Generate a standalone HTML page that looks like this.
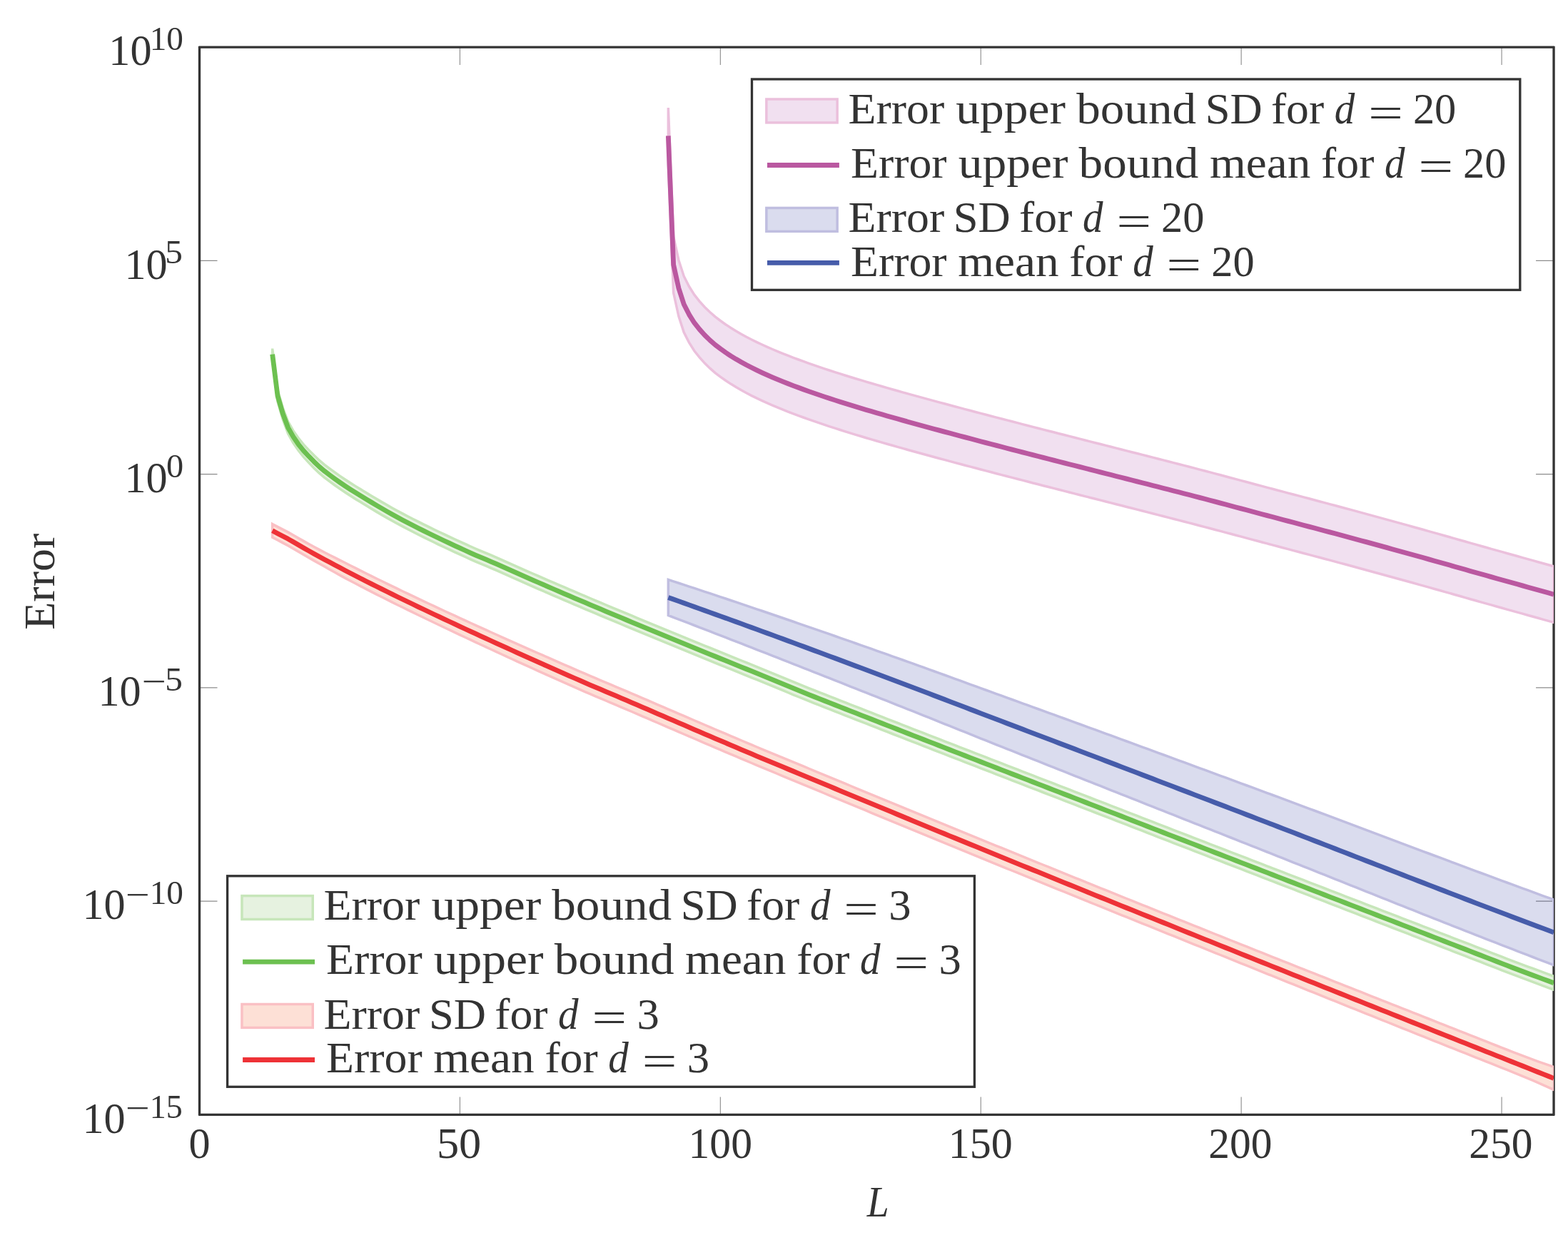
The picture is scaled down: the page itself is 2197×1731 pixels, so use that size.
<!DOCTYPE html>
<html lang="en"><head><meta charset="utf-8"><title>Error versus L</title>
<style>html,body{margin:0;padding:0;background:#fff}svg{display:block}text{font-family:"Liberation Serif",serif;fill:#333333}</style></head>
<body><svg width="2197" height="1731" viewBox="0 0 2197 1731">
<rect width="2197" height="1731" fill="#ffffff"/>
<defs><clipPath id="pc"><rect x="279.50" y="66.05" width="1897.55" height="1496.40"/></clipPath></defs>
<path d="M279.50 1562.45 V1537.45 M279.50 66.05 V91.05 M644.41 1562.45 V1537.45 M644.41 66.05 V91.05 M1009.33 1562.45 V1537.45 M1009.33 66.05 V91.05 M1374.24 1562.45 V1537.45 M1374.24 66.05 V91.05 M1739.15 1562.45 V1537.45 M1739.15 66.05 V91.05 M2104.07 1562.45 V1537.45 M2104.07 66.05 V91.05 M279.50 66.05 H304.50 M2177.05 66.05 H2152.05 M279.50 365.33 H304.50 M2177.05 365.33 H2152.05 M279.50 664.61 H304.50 M2177.05 664.61 H2152.05 M279.50 963.89 H304.50 M2177.05 963.89 H2152.05 M279.50 1263.17 H304.50 M2177.05 1263.17 H2152.05 M279.50 1562.45 H304.50 M2177.05 1562.45 H2152.05" stroke="#8c8c8c" stroke-width="1.1" fill="none"/>
<path d="M279.50 64.99 V1563.51 M2177.05 64.99 V1563.51 M278.44 66.05 H2178.11 M278.44 1562.45 H2178.11" stroke="#333333" stroke-width="3.32" fill="none"/>
<g clip-path="url(#pc)" stroke-linejoin="miter" stroke-miterlimit="10">
<rect x="2175.00" y="792.65" width="2.05" height="81.00" fill="#ffffff"/>
<path d="M936.34 151.10 L943.64 331.70 L950.94 364.70 L958.24 387.20 L965.54 401.53 L972.84 413.16 L980.13 422.35 L987.43 430.45 L994.73 437.55 L1002.03 443.92 L1009.33 449.49 L1016.63 454.69 L1023.92 459.51 L1031.22 464.01 L1038.52 468.23 L1045.82 472.22 L1053.12 476.00 L1060.41 479.60 L1067.71 483.04 L1075.01 486.34 L1082.31 489.52 L1089.61 492.59 L1096.91 495.57 L1104.20 498.45 L1111.50 501.26 L1118.80 503.99 L1126.10 506.67 L1133.40 509.28 L1140.70 511.84 L1147.99 514.35 L1155.29 516.81 L1162.59 519.22 L1169.89 521.59 L1177.19 523.93 L1184.49 526.22 L1191.78 528.49 L1199.08 530.72 L1206.38 532.93 L1213.68 535.11 L1220.98 537.27 L1228.28 539.41 L1235.57 541.52 L1242.87 543.62 L1250.17 545.70 L1257.47 547.76 L1264.77 549.81 L1272.06 551.85 L1279.36 553.87 L1286.66 555.89 L1293.96 557.89 L1301.26 559.88 L1308.56 561.87 L1315.85 563.84 L1323.15 565.81 L1330.45 567.77 L1337.75 569.72 L1345.05 571.66 L1352.35 573.60 L1359.64 575.53 L1366.94 577.45 L1374.24 579.37 L1381.54 581.29 L1388.84 583.20 L1396.14 585.10 L1403.43 587.00 L1410.73 588.90 L1418.03 590.79 L1425.33 592.68 L1432.63 594.57 L1439.92 596.45 L1447.22 598.33 L1454.52 600.20 L1461.82 602.08 L1469.12 603.95 L1476.42 605.82 L1483.71 607.68 L1491.01 609.55 L1498.31 611.41 L1505.61 613.27 L1512.91 615.12 L1520.21 616.98 L1527.50 618.84 L1534.80 620.69 L1542.10 622.55 L1549.40 624.40 L1556.70 626.26 L1564.00 628.12 L1571.29 629.97 L1578.59 631.83 L1585.89 633.69 L1593.19 635.55 L1600.49 637.41 L1607.79 639.28 L1615.08 641.14 L1622.38 643.01 L1629.68 644.88 L1636.98 646.76 L1644.28 648.63 L1651.57 650.51 L1658.87 652.40 L1666.17 654.28 L1673.47 656.18 L1680.77 658.09 L1688.07 660.01 L1695.36 661.93 L1702.66 663.86 L1709.96 665.80 L1717.26 667.74 L1724.56 669.69 L1731.86 671.63 L1739.15 673.58 L1746.45 675.53 L1753.75 677.49 L1761.05 679.44 L1768.35 681.38 L1775.65 683.33 L1782.94 685.27 L1790.24 687.21 L1797.54 689.14 L1804.84 691.07 L1812.14 693.00 L1819.43 694.93 L1826.73 696.87 L1834.03 698.80 L1841.33 700.74 L1848.63 702.69 L1855.93 704.63 L1863.22 706.58 L1870.52 708.53 L1877.82 710.49 L1885.12 712.45 L1892.42 714.42 L1899.72 716.39 L1907.01 718.37 L1914.31 720.35 L1921.61 722.34 L1928.91 724.34 L1936.21 726.34 L1943.51 728.34 L1950.80 730.36 L1958.10 732.37 L1965.40 734.39 L1972.70 736.42 L1980.00 738.45 L1987.30 740.49 L1994.59 742.53 L2001.89 744.57 L2009.19 746.62 L2016.49 748.68 L2023.79 750.74 L2031.08 752.80 L2038.38 754.87 L2045.68 756.95 L2052.98 759.03 L2060.28 761.10 L2067.58 763.16 L2074.87 765.23 L2082.17 767.28 L2089.47 769.33 L2096.77 771.38 L2104.07 773.42 L2111.37 775.47 L2118.66 777.51 L2125.96 779.54 L2133.26 781.58 L2140.56 783.62 L2147.86 785.66 L2155.16 787.71 L2162.45 789.75 L2169.75 791.80 L2177.05 793.85 L2177.05 872.45 L2169.75 870.40 L2162.45 868.35 L2155.16 866.31 L2147.86 864.26 L2140.56 862.22 L2133.26 860.18 L2125.96 858.14 L2118.66 856.11 L2111.37 854.07 L2104.07 852.02 L2096.77 849.98 L2089.47 847.93 L2082.17 845.88 L2074.87 843.83 L2067.58 841.76 L2060.28 839.70 L2052.98 837.63 L2045.68 835.55 L2038.38 833.47 L2031.08 831.40 L2023.79 829.34 L2016.49 827.28 L2009.19 825.22 L2001.89 823.17 L1994.59 821.13 L1987.30 819.09 L1980.00 817.05 L1972.70 815.02 L1965.40 812.99 L1958.10 810.97 L1950.80 808.96 L1943.51 806.94 L1936.21 804.94 L1928.91 802.94 L1921.61 800.94 L1914.31 798.95 L1907.01 796.97 L1899.72 794.99 L1892.42 793.02 L1885.12 791.05 L1877.82 789.09 L1870.52 787.13 L1863.22 785.18 L1855.93 783.23 L1848.63 781.29 L1841.33 779.34 L1834.03 777.40 L1826.73 775.47 L1819.43 773.53 L1812.14 771.60 L1804.84 769.67 L1797.54 767.74 L1790.24 765.81 L1782.94 763.87 L1775.65 761.93 L1768.35 759.98 L1761.05 758.04 L1753.75 756.09 L1746.45 754.13 L1739.15 752.18 L1731.86 750.23 L1724.56 748.29 L1717.26 746.34 L1709.96 744.40 L1702.66 742.46 L1695.36 740.53 L1688.07 738.61 L1680.77 736.69 L1673.47 734.78 L1666.17 732.88 L1658.87 731.00 L1651.57 729.11 L1644.28 727.23 L1636.98 725.36 L1629.68 723.48 L1622.38 721.61 L1615.08 719.74 L1607.79 717.88 L1600.49 716.01 L1593.19 714.15 L1585.89 712.29 L1578.59 710.43 L1571.29 708.57 L1564.00 706.72 L1556.70 704.86 L1549.40 703.00 L1542.10 701.15 L1534.80 699.29 L1527.50 697.44 L1520.21 695.58 L1512.91 693.72 L1505.61 691.87 L1498.31 690.01 L1491.01 688.15 L1483.71 686.28 L1476.42 684.42 L1469.12 682.55 L1461.82 680.68 L1454.52 678.80 L1447.22 676.93 L1439.92 675.05 L1432.63 673.17 L1425.33 671.28 L1418.03 669.39 L1410.73 667.50 L1403.43 665.60 L1396.14 663.70 L1388.84 661.80 L1381.54 659.89 L1374.24 657.97 L1366.94 656.05 L1359.64 654.13 L1352.35 652.20 L1345.05 650.26 L1337.75 648.32 L1330.45 646.37 L1323.15 644.41 L1315.85 642.44 L1308.56 640.47 L1301.26 638.48 L1293.96 636.49 L1286.66 634.49 L1279.36 632.47 L1272.06 630.45 L1264.77 628.41 L1257.47 626.36 L1250.17 624.30 L1242.87 622.22 L1235.57 620.12 L1228.28 618.01 L1220.98 615.87 L1213.68 613.71 L1206.38 611.53 L1199.08 609.32 L1191.78 607.09 L1184.49 604.82 L1177.19 602.53 L1169.89 600.19 L1162.59 597.82 L1155.29 595.41 L1147.99 592.95 L1140.70 590.44 L1133.40 587.88 L1126.10 585.27 L1118.80 582.59 L1111.50 579.86 L1104.20 577.05 L1096.91 574.17 L1089.61 571.19 L1082.31 568.12 L1075.01 564.94 L1067.71 561.64 L1060.41 558.20 L1053.12 554.60 L1045.82 550.82 L1038.52 546.83 L1031.22 542.61 L1023.92 538.11 L1016.63 533.29 L1009.33 528.09 L1002.03 522.52 L994.73 516.15 L987.43 509.05 L980.13 500.95 L972.84 491.76 L965.54 480.13 L958.24 465.80 L950.94 443.30 L943.64 410.30 L936.34 229.70 Z" fill="rgb(185,100,180)" fill-opacity="0.2" stroke="none"/>
<path d="M936.34 151.10 L943.64 331.70 L950.94 364.70 L958.24 387.20 L965.54 401.53 L972.84 413.16 L980.13 422.35 L987.43 430.45 L994.73 437.55 L1002.03 443.92 L1009.33 449.49 L1016.63 454.69 L1023.92 459.51 L1031.22 464.01 L1038.52 468.23 L1045.82 472.22 L1053.12 476.00 L1060.41 479.60 L1067.71 483.04 L1075.01 486.34 L1082.31 489.52 L1089.61 492.59 L1096.91 495.57 L1104.20 498.45 L1111.50 501.26 L1118.80 503.99 L1126.10 506.67 L1133.40 509.28 L1140.70 511.84 L1147.99 514.35 L1155.29 516.81 L1162.59 519.22 L1169.89 521.59 L1177.19 523.93 L1184.49 526.22 L1191.78 528.49 L1199.08 530.72 L1206.38 532.93 L1213.68 535.11 L1220.98 537.27 L1228.28 539.41 L1235.57 541.52 L1242.87 543.62 L1250.17 545.70 L1257.47 547.76 L1264.77 549.81 L1272.06 551.85 L1279.36 553.87 L1286.66 555.89 L1293.96 557.89 L1301.26 559.88 L1308.56 561.87 L1315.85 563.84 L1323.15 565.81 L1330.45 567.77 L1337.75 569.72 L1345.05 571.66 L1352.35 573.60 L1359.64 575.53 L1366.94 577.45 L1374.24 579.37 L1381.54 581.29 L1388.84 583.20 L1396.14 585.10 L1403.43 587.00 L1410.73 588.90 L1418.03 590.79 L1425.33 592.68 L1432.63 594.57 L1439.92 596.45 L1447.22 598.33 L1454.52 600.20 L1461.82 602.08 L1469.12 603.95 L1476.42 605.82 L1483.71 607.68 L1491.01 609.55 L1498.31 611.41 L1505.61 613.27 L1512.91 615.12 L1520.21 616.98 L1527.50 618.84 L1534.80 620.69 L1542.10 622.55 L1549.40 624.40 L1556.70 626.26 L1564.00 628.12 L1571.29 629.97 L1578.59 631.83 L1585.89 633.69 L1593.19 635.55 L1600.49 637.41 L1607.79 639.28 L1615.08 641.14 L1622.38 643.01 L1629.68 644.88 L1636.98 646.76 L1644.28 648.63 L1651.57 650.51 L1658.87 652.40 L1666.17 654.28 L1673.47 656.18 L1680.77 658.09 L1688.07 660.01 L1695.36 661.93 L1702.66 663.86 L1709.96 665.80 L1717.26 667.74 L1724.56 669.69 L1731.86 671.63 L1739.15 673.58 L1746.45 675.53 L1753.75 677.49 L1761.05 679.44 L1768.35 681.38 L1775.65 683.33 L1782.94 685.27 L1790.24 687.21 L1797.54 689.14 L1804.84 691.07 L1812.14 693.00 L1819.43 694.93 L1826.73 696.87 L1834.03 698.80 L1841.33 700.74 L1848.63 702.69 L1855.93 704.63 L1863.22 706.58 L1870.52 708.53 L1877.82 710.49 L1885.12 712.45 L1892.42 714.42 L1899.72 716.39 L1907.01 718.37 L1914.31 720.35 L1921.61 722.34 L1928.91 724.34 L1936.21 726.34 L1943.51 728.34 L1950.80 730.36 L1958.10 732.37 L1965.40 734.39 L1972.70 736.42 L1980.00 738.45 L1987.30 740.49 L1994.59 742.53 L2001.89 744.57 L2009.19 746.62 L2016.49 748.68 L2023.79 750.74 L2031.08 752.80 L2038.38 754.87 L2045.68 756.95 L2052.98 759.03 L2060.28 761.10 L2067.58 763.16 L2074.87 765.23 L2082.17 767.28 L2089.47 769.33 L2096.77 771.38 L2104.07 773.42 L2111.37 775.47 L2118.66 777.51 L2125.96 779.54 L2133.26 781.58 L2140.56 783.62 L2147.86 785.66 L2155.16 787.71 L2162.45 789.75 L2169.75 791.80 L2177.05 793.85 L2177.05 872.45 L2169.75 870.40 L2162.45 868.35 L2155.16 866.31 L2147.86 864.26 L2140.56 862.22 L2133.26 860.18 L2125.96 858.14 L2118.66 856.11 L2111.37 854.07 L2104.07 852.02 L2096.77 849.98 L2089.47 847.93 L2082.17 845.88 L2074.87 843.83 L2067.58 841.76 L2060.28 839.70 L2052.98 837.63 L2045.68 835.55 L2038.38 833.47 L2031.08 831.40 L2023.79 829.34 L2016.49 827.28 L2009.19 825.22 L2001.89 823.17 L1994.59 821.13 L1987.30 819.09 L1980.00 817.05 L1972.70 815.02 L1965.40 812.99 L1958.10 810.97 L1950.80 808.96 L1943.51 806.94 L1936.21 804.94 L1928.91 802.94 L1921.61 800.94 L1914.31 798.95 L1907.01 796.97 L1899.72 794.99 L1892.42 793.02 L1885.12 791.05 L1877.82 789.09 L1870.52 787.13 L1863.22 785.18 L1855.93 783.23 L1848.63 781.29 L1841.33 779.34 L1834.03 777.40 L1826.73 775.47 L1819.43 773.53 L1812.14 771.60 L1804.84 769.67 L1797.54 767.74 L1790.24 765.81 L1782.94 763.87 L1775.65 761.93 L1768.35 759.98 L1761.05 758.04 L1753.75 756.09 L1746.45 754.13 L1739.15 752.18 L1731.86 750.23 L1724.56 748.29 L1717.26 746.34 L1709.96 744.40 L1702.66 742.46 L1695.36 740.53 L1688.07 738.61 L1680.77 736.69 L1673.47 734.78 L1666.17 732.88 L1658.87 731.00 L1651.57 729.11 L1644.28 727.23 L1636.98 725.36 L1629.68 723.48 L1622.38 721.61 L1615.08 719.74 L1607.79 717.88 L1600.49 716.01 L1593.19 714.15 L1585.89 712.29 L1578.59 710.43 L1571.29 708.57 L1564.00 706.72 L1556.70 704.86 L1549.40 703.00 L1542.10 701.15 L1534.80 699.29 L1527.50 697.44 L1520.21 695.58 L1512.91 693.72 L1505.61 691.87 L1498.31 690.01 L1491.01 688.15 L1483.71 686.28 L1476.42 684.42 L1469.12 682.55 L1461.82 680.68 L1454.52 678.80 L1447.22 676.93 L1439.92 675.05 L1432.63 673.17 L1425.33 671.28 L1418.03 669.39 L1410.73 667.50 L1403.43 665.60 L1396.14 663.70 L1388.84 661.80 L1381.54 659.89 L1374.24 657.97 L1366.94 656.05 L1359.64 654.13 L1352.35 652.20 L1345.05 650.26 L1337.75 648.32 L1330.45 646.37 L1323.15 644.41 L1315.85 642.44 L1308.56 640.47 L1301.26 638.48 L1293.96 636.49 L1286.66 634.49 L1279.36 632.47 L1272.06 630.45 L1264.77 628.41 L1257.47 626.36 L1250.17 624.30 L1242.87 622.22 L1235.57 620.12 L1228.28 618.01 L1220.98 615.87 L1213.68 613.71 L1206.38 611.53 L1199.08 609.32 L1191.78 607.09 L1184.49 604.82 L1177.19 602.53 L1169.89 600.19 L1162.59 597.82 L1155.29 595.41 L1147.99 592.95 L1140.70 590.44 L1133.40 587.88 L1126.10 585.27 L1118.80 582.59 L1111.50 579.86 L1104.20 577.05 L1096.91 574.17 L1089.61 571.19 L1082.31 568.12 L1075.01 564.94 L1067.71 561.64 L1060.41 558.20 L1053.12 554.60 L1045.82 550.82 L1038.52 546.83 L1031.22 542.61 L1023.92 538.11 L1016.63 533.29 L1009.33 528.09 L1002.03 522.52 L994.73 516.15 L987.43 509.05 L980.13 500.95 L972.84 491.76 L965.54 480.13 L958.24 465.80 L950.94 443.30 L943.64 410.30 L936.34 229.70 Z" fill="none" stroke="#ebc0dc" stroke-width="3.50"/>
<rect x="2175.00" y="1259.93" width="2.05" height="94.00" fill="#ffffff"/>
<path d="M936.34 812.50 L943.64 814.88 L950.94 817.26 L958.24 819.65 L965.54 822.05 L972.84 824.46 L980.13 826.87 L987.43 829.29 L994.73 831.71 L1002.03 834.14 L1009.33 836.58 L1016.63 839.02 L1023.92 841.47 L1031.22 843.92 L1038.52 846.38 L1045.82 848.85 L1053.12 851.32 L1060.41 853.79 L1067.71 856.27 L1075.01 858.76 L1082.31 861.25 L1089.61 863.75 L1096.91 866.25 L1104.20 868.75 L1111.50 871.26 L1118.80 873.78 L1126.10 876.30 L1133.40 878.82 L1140.70 881.35 L1147.99 883.89 L1155.29 886.42 L1162.59 888.97 L1169.89 891.51 L1177.19 894.06 L1184.49 896.62 L1191.78 899.18 L1199.08 901.74 L1206.38 904.31 L1213.68 906.88 L1220.98 909.45 L1228.28 912.03 L1235.57 914.61 L1242.87 917.20 L1250.17 919.79 L1257.47 922.38 L1264.77 924.98 L1272.06 927.59 L1279.36 930.21 L1286.66 932.83 L1293.96 935.46 L1301.26 938.09 L1308.56 940.73 L1315.85 943.38 L1323.15 946.02 L1330.45 948.67 L1337.75 951.33 L1345.05 953.98 L1352.35 956.64 L1359.64 959.30 L1366.94 961.95 L1374.24 964.61 L1381.54 967.26 L1388.84 969.91 L1396.14 972.56 L1403.43 975.20 L1410.73 977.85 L1418.03 980.49 L1425.33 983.14 L1432.63 985.79 L1439.92 988.44 L1447.22 991.09 L1454.52 993.74 L1461.82 996.39 L1469.12 999.04 L1476.42 1001.70 L1483.71 1004.35 L1491.01 1007.01 L1498.31 1009.67 L1505.61 1012.33 L1512.91 1014.99 L1520.21 1017.65 L1527.50 1020.31 L1534.80 1022.98 L1542.10 1025.64 L1549.40 1028.31 L1556.70 1030.98 L1564.00 1033.65 L1571.29 1036.32 L1578.59 1038.99 L1585.89 1041.66 L1593.19 1044.34 L1600.49 1047.02 L1607.79 1049.69 L1615.08 1052.37 L1622.38 1055.06 L1629.68 1057.74 L1636.98 1060.42 L1644.28 1063.11 L1651.57 1065.80 L1658.87 1068.48 L1666.17 1071.17 L1673.47 1073.85 L1680.77 1076.54 L1688.07 1079.22 L1695.36 1081.91 L1702.66 1084.60 L1709.96 1087.29 L1717.26 1089.97 L1724.56 1092.67 L1731.86 1095.36 L1739.15 1098.05 L1746.45 1100.75 L1753.75 1103.44 L1761.05 1106.14 L1768.35 1108.84 L1775.65 1111.55 L1782.94 1114.26 L1790.24 1116.97 L1797.54 1119.68 L1804.84 1122.40 L1812.14 1125.11 L1819.43 1127.84 L1826.73 1130.56 L1834.03 1133.29 L1841.33 1136.01 L1848.63 1138.74 L1855.93 1141.48 L1863.22 1144.21 L1870.52 1146.95 L1877.82 1149.68 L1885.12 1152.42 L1892.42 1155.16 L1899.72 1157.90 L1907.01 1160.64 L1914.31 1163.38 L1921.61 1166.12 L1928.91 1168.86 L1936.21 1171.60 L1943.51 1174.35 L1950.80 1177.09 L1958.10 1179.83 L1965.40 1182.57 L1972.70 1185.31 L1980.00 1188.05 L1987.30 1190.79 L1994.59 1193.52 L2001.89 1196.26 L2009.19 1198.99 L2016.49 1201.73 L2023.79 1204.46 L2031.08 1207.19 L2038.38 1209.92 L2045.68 1212.64 L2052.98 1215.36 L2060.28 1218.08 L2067.58 1220.79 L2074.87 1223.50 L2082.17 1226.21 L2089.47 1228.91 L2096.77 1231.60 L2104.07 1234.30 L2111.37 1236.99 L2118.66 1239.68 L2125.96 1242.36 L2133.26 1245.05 L2140.56 1247.73 L2147.86 1250.41 L2155.16 1253.09 L2162.45 1255.77 L2169.75 1258.45 L2177.05 1261.13 L2177.05 1352.73 L2169.75 1349.92 L2162.45 1347.12 L2155.16 1344.31 L2147.86 1341.50 L2140.56 1338.68 L2133.26 1335.87 L2125.96 1333.05 L2118.66 1330.23 L2111.37 1327.40 L2104.07 1324.57 L2096.77 1321.73 L2089.47 1318.90 L2082.17 1316.05 L2074.87 1313.20 L2067.58 1310.35 L2060.28 1307.49 L2052.98 1304.62 L2045.68 1301.74 L2038.38 1298.87 L2031.08 1295.99 L2023.79 1293.10 L2016.49 1290.21 L2009.19 1287.32 L2001.89 1284.43 L1994.59 1281.54 L1987.30 1278.64 L1980.00 1275.74 L1972.70 1272.83 L1965.40 1269.93 L1958.10 1267.02 L1950.80 1264.11 L1943.51 1261.20 L1936.21 1258.29 L1928.91 1255.38 L1921.61 1252.47 L1914.31 1249.55 L1907.01 1246.64 L1899.72 1243.72 L1892.42 1240.81 L1885.12 1237.89 L1877.82 1234.98 L1870.52 1232.06 L1863.22 1229.15 L1855.93 1226.23 L1848.63 1223.32 L1841.33 1220.40 L1834.03 1217.49 L1826.73 1214.58 L1819.43 1211.67 L1812.14 1208.76 L1804.84 1205.85 L1797.54 1202.95 L1790.24 1200.05 L1782.94 1197.15 L1775.65 1194.25 L1768.35 1191.35 L1761.05 1188.46 L1753.75 1185.56 L1746.45 1182.67 L1739.15 1179.78 L1731.86 1176.89 L1724.56 1174.00 L1717.26 1171.11 L1709.96 1168.22 L1702.66 1165.34 L1695.36 1162.45 L1688.07 1159.56 L1680.77 1156.67 L1673.47 1153.79 L1666.17 1150.90 L1658.87 1148.01 L1651.57 1145.12 L1644.28 1142.23 L1636.98 1139.34 L1629.68 1136.45 L1622.38 1133.56 L1615.08 1130.66 L1607.79 1127.77 L1600.49 1124.88 L1593.19 1121.99 L1585.89 1119.10 L1578.59 1116.21 L1571.29 1113.31 L1564.00 1110.42 L1556.70 1107.53 L1549.40 1104.64 L1542.10 1101.74 L1534.80 1098.85 L1527.50 1095.95 L1520.21 1093.06 L1512.91 1090.16 L1505.61 1087.27 L1498.31 1084.37 L1491.01 1081.48 L1483.71 1078.58 L1476.42 1075.68 L1469.12 1072.78 L1461.82 1069.89 L1454.52 1066.99 L1447.22 1064.09 L1439.92 1061.19 L1432.63 1058.28 L1425.33 1055.38 L1418.03 1052.48 L1410.73 1049.58 L1403.43 1046.67 L1396.14 1043.77 L1388.84 1040.86 L1381.54 1037.94 L1374.24 1035.02 L1366.94 1032.10 L1359.64 1029.17 L1352.35 1026.24 L1345.05 1023.31 L1337.75 1020.38 L1330.45 1017.45 L1323.15 1014.52 L1315.85 1011.59 L1308.56 1008.66 L1301.26 1005.74 L1293.96 1002.82 L1286.66 999.90 L1279.36 996.99 L1272.06 994.08 L1264.77 991.18 L1257.47 988.28 L1250.17 985.39 L1242.87 982.49 L1235.57 979.60 L1228.28 976.71 L1220.98 973.82 L1213.68 970.93 L1206.38 968.04 L1199.08 965.15 L1191.78 962.26 L1184.49 959.37 L1177.19 956.48 L1169.89 953.60 L1162.59 950.71 L1155.29 947.83 L1147.99 944.95 L1140.70 942.07 L1133.40 939.19 L1126.10 936.31 L1118.80 933.44 L1111.50 930.56 L1104.20 927.69 L1096.91 924.82 L1089.61 921.96 L1082.31 919.09 L1075.01 916.23 L1067.71 913.37 L1060.41 910.52 L1053.12 907.66 L1045.82 904.81 L1038.52 901.96 L1031.22 899.12 L1023.92 896.28 L1016.63 893.44 L1009.33 890.61 L1002.03 887.78 L994.73 884.95 L987.43 882.13 L980.13 879.31 L972.84 876.50 L965.54 873.69 L958.24 870.88 L950.94 868.08 L943.64 865.29 L936.34 862.50 Z" fill="rgb(70,80,170)" fill-opacity="0.2" stroke="none"/>
<path d="M936.34 812.50 L943.64 814.88 L950.94 817.26 L958.24 819.65 L965.54 822.05 L972.84 824.46 L980.13 826.87 L987.43 829.29 L994.73 831.71 L1002.03 834.14 L1009.33 836.58 L1016.63 839.02 L1023.92 841.47 L1031.22 843.92 L1038.52 846.38 L1045.82 848.85 L1053.12 851.32 L1060.41 853.79 L1067.71 856.27 L1075.01 858.76 L1082.31 861.25 L1089.61 863.75 L1096.91 866.25 L1104.20 868.75 L1111.50 871.26 L1118.80 873.78 L1126.10 876.30 L1133.40 878.82 L1140.70 881.35 L1147.99 883.89 L1155.29 886.42 L1162.59 888.97 L1169.89 891.51 L1177.19 894.06 L1184.49 896.62 L1191.78 899.18 L1199.08 901.74 L1206.38 904.31 L1213.68 906.88 L1220.98 909.45 L1228.28 912.03 L1235.57 914.61 L1242.87 917.20 L1250.17 919.79 L1257.47 922.38 L1264.77 924.98 L1272.06 927.59 L1279.36 930.21 L1286.66 932.83 L1293.96 935.46 L1301.26 938.09 L1308.56 940.73 L1315.85 943.38 L1323.15 946.02 L1330.45 948.67 L1337.75 951.33 L1345.05 953.98 L1352.35 956.64 L1359.64 959.30 L1366.94 961.95 L1374.24 964.61 L1381.54 967.26 L1388.84 969.91 L1396.14 972.56 L1403.43 975.20 L1410.73 977.85 L1418.03 980.49 L1425.33 983.14 L1432.63 985.79 L1439.92 988.44 L1447.22 991.09 L1454.52 993.74 L1461.82 996.39 L1469.12 999.04 L1476.42 1001.70 L1483.71 1004.35 L1491.01 1007.01 L1498.31 1009.67 L1505.61 1012.33 L1512.91 1014.99 L1520.21 1017.65 L1527.50 1020.31 L1534.80 1022.98 L1542.10 1025.64 L1549.40 1028.31 L1556.70 1030.98 L1564.00 1033.65 L1571.29 1036.32 L1578.59 1038.99 L1585.89 1041.66 L1593.19 1044.34 L1600.49 1047.02 L1607.79 1049.69 L1615.08 1052.37 L1622.38 1055.06 L1629.68 1057.74 L1636.98 1060.42 L1644.28 1063.11 L1651.57 1065.80 L1658.87 1068.48 L1666.17 1071.17 L1673.47 1073.85 L1680.77 1076.54 L1688.07 1079.22 L1695.36 1081.91 L1702.66 1084.60 L1709.96 1087.29 L1717.26 1089.97 L1724.56 1092.67 L1731.86 1095.36 L1739.15 1098.05 L1746.45 1100.75 L1753.75 1103.44 L1761.05 1106.14 L1768.35 1108.84 L1775.65 1111.55 L1782.94 1114.26 L1790.24 1116.97 L1797.54 1119.68 L1804.84 1122.40 L1812.14 1125.11 L1819.43 1127.84 L1826.73 1130.56 L1834.03 1133.29 L1841.33 1136.01 L1848.63 1138.74 L1855.93 1141.48 L1863.22 1144.21 L1870.52 1146.95 L1877.82 1149.68 L1885.12 1152.42 L1892.42 1155.16 L1899.72 1157.90 L1907.01 1160.64 L1914.31 1163.38 L1921.61 1166.12 L1928.91 1168.86 L1936.21 1171.60 L1943.51 1174.35 L1950.80 1177.09 L1958.10 1179.83 L1965.40 1182.57 L1972.70 1185.31 L1980.00 1188.05 L1987.30 1190.79 L1994.59 1193.52 L2001.89 1196.26 L2009.19 1198.99 L2016.49 1201.73 L2023.79 1204.46 L2031.08 1207.19 L2038.38 1209.92 L2045.68 1212.64 L2052.98 1215.36 L2060.28 1218.08 L2067.58 1220.79 L2074.87 1223.50 L2082.17 1226.21 L2089.47 1228.91 L2096.77 1231.60 L2104.07 1234.30 L2111.37 1236.99 L2118.66 1239.68 L2125.96 1242.36 L2133.26 1245.05 L2140.56 1247.73 L2147.86 1250.41 L2155.16 1253.09 L2162.45 1255.77 L2169.75 1258.45 L2177.05 1261.13 L2177.05 1352.73 L2169.75 1349.92 L2162.45 1347.12 L2155.16 1344.31 L2147.86 1341.50 L2140.56 1338.68 L2133.26 1335.87 L2125.96 1333.05 L2118.66 1330.23 L2111.37 1327.40 L2104.07 1324.57 L2096.77 1321.73 L2089.47 1318.90 L2082.17 1316.05 L2074.87 1313.20 L2067.58 1310.35 L2060.28 1307.49 L2052.98 1304.62 L2045.68 1301.74 L2038.38 1298.87 L2031.08 1295.99 L2023.79 1293.10 L2016.49 1290.21 L2009.19 1287.32 L2001.89 1284.43 L1994.59 1281.54 L1987.30 1278.64 L1980.00 1275.74 L1972.70 1272.83 L1965.40 1269.93 L1958.10 1267.02 L1950.80 1264.11 L1943.51 1261.20 L1936.21 1258.29 L1928.91 1255.38 L1921.61 1252.47 L1914.31 1249.55 L1907.01 1246.64 L1899.72 1243.72 L1892.42 1240.81 L1885.12 1237.89 L1877.82 1234.98 L1870.52 1232.06 L1863.22 1229.15 L1855.93 1226.23 L1848.63 1223.32 L1841.33 1220.40 L1834.03 1217.49 L1826.73 1214.58 L1819.43 1211.67 L1812.14 1208.76 L1804.84 1205.85 L1797.54 1202.95 L1790.24 1200.05 L1782.94 1197.15 L1775.65 1194.25 L1768.35 1191.35 L1761.05 1188.46 L1753.75 1185.56 L1746.45 1182.67 L1739.15 1179.78 L1731.86 1176.89 L1724.56 1174.00 L1717.26 1171.11 L1709.96 1168.22 L1702.66 1165.34 L1695.36 1162.45 L1688.07 1159.56 L1680.77 1156.67 L1673.47 1153.79 L1666.17 1150.90 L1658.87 1148.01 L1651.57 1145.12 L1644.28 1142.23 L1636.98 1139.34 L1629.68 1136.45 L1622.38 1133.56 L1615.08 1130.66 L1607.79 1127.77 L1600.49 1124.88 L1593.19 1121.99 L1585.89 1119.10 L1578.59 1116.21 L1571.29 1113.31 L1564.00 1110.42 L1556.70 1107.53 L1549.40 1104.64 L1542.10 1101.74 L1534.80 1098.85 L1527.50 1095.95 L1520.21 1093.06 L1512.91 1090.16 L1505.61 1087.27 L1498.31 1084.37 L1491.01 1081.48 L1483.71 1078.58 L1476.42 1075.68 L1469.12 1072.78 L1461.82 1069.89 L1454.52 1066.99 L1447.22 1064.09 L1439.92 1061.19 L1432.63 1058.28 L1425.33 1055.38 L1418.03 1052.48 L1410.73 1049.58 L1403.43 1046.67 L1396.14 1043.77 L1388.84 1040.86 L1381.54 1037.94 L1374.24 1035.02 L1366.94 1032.10 L1359.64 1029.17 L1352.35 1026.24 L1345.05 1023.31 L1337.75 1020.38 L1330.45 1017.45 L1323.15 1014.52 L1315.85 1011.59 L1308.56 1008.66 L1301.26 1005.74 L1293.96 1002.82 L1286.66 999.90 L1279.36 996.99 L1272.06 994.08 L1264.77 991.18 L1257.47 988.28 L1250.17 985.39 L1242.87 982.49 L1235.57 979.60 L1228.28 976.71 L1220.98 973.82 L1213.68 970.93 L1206.38 968.04 L1199.08 965.15 L1191.78 962.26 L1184.49 959.37 L1177.19 956.48 L1169.89 953.60 L1162.59 950.71 L1155.29 947.83 L1147.99 944.95 L1140.70 942.07 L1133.40 939.19 L1126.10 936.31 L1118.80 933.44 L1111.50 930.56 L1104.20 927.69 L1096.91 924.82 L1089.61 921.96 L1082.31 919.09 L1075.01 916.23 L1067.71 913.37 L1060.41 910.52 L1053.12 907.66 L1045.82 904.81 L1038.52 901.96 L1031.22 899.12 L1023.92 896.28 L1016.63 893.44 L1009.33 890.61 L1002.03 887.78 L994.73 884.95 L987.43 882.13 L980.13 879.31 L972.84 876.50 L965.54 873.69 L958.24 870.88 L950.94 868.08 L943.64 865.29 L936.34 862.50 Z" fill="none" stroke="#c0bee0" stroke-width="3.50"/>
<rect x="2175.00" y="1367.06" width="2.05" height="21.40" fill="#ffffff"/>
<path d="M381.68 488.60 L388.97 546.58 L396.27 571.54 L403.57 590.92 L410.87 603.64 L418.17 614.09 L425.47 623.12 L432.76 630.83 L440.06 638.22 L447.36 645.16 L454.66 651.29 L461.96 656.86 L469.25 662.21 L476.55 667.37 L483.85 672.31 L491.15 677.06 L498.45 681.64 L505.75 686.08 L513.04 690.55 L520.34 694.97 L527.64 699.33 L534.94 703.63 L542.24 707.84 L549.54 711.95 L556.83 715.97 L564.13 719.87 L571.43 723.70 L578.73 727.47 L586.03 731.17 L593.33 734.82 L600.62 738.42 L607.92 741.97 L615.22 745.48 L622.52 748.95 L629.82 752.37 L637.12 755.77 L644.41 759.12 L651.71 762.45 L659.01 765.75 L666.31 768.98 L673.61 772.09 L680.90 775.15 L688.20 778.22 L695.50 781.36 L702.80 784.61 L710.10 787.88 L717.40 791.14 L724.69 794.38 L731.99 797.60 L739.29 800.82 L746.59 804.01 L753.89 807.20 L761.19 810.38 L768.48 813.54 L775.78 816.70 L783.08 819.84 L790.38 822.97 L797.68 826.10 L804.98 829.21 L812.27 832.32 L819.57 835.42 L826.87 838.51 L834.17 841.59 L841.47 844.67 L848.77 847.74 L856.06 850.80 L863.36 853.85 L870.66 856.90 L877.96 859.95 L885.26 862.98 L892.55 866.02 L899.85 869.04 L907.15 872.06 L914.45 875.08 L921.75 878.09 L929.05 881.10 L936.34 884.10 L943.64 887.10 L950.94 890.09 L958.24 893.08 L965.54 896.07 L972.84 899.05 L980.13 902.03 L987.43 905.01 L994.73 907.98 L1002.03 910.95 L1009.33 913.92 L1016.63 916.88 L1023.92 919.84 L1031.22 922.80 L1038.52 925.75 L1045.82 928.70 L1053.12 931.65 L1060.41 934.60 L1067.71 937.56 L1075.01 940.55 L1082.31 943.56 L1089.61 946.58 L1096.91 949.60 L1104.20 952.62 L1111.50 955.63 L1118.80 958.62 L1126.10 961.59 L1133.40 964.53 L1140.70 967.42 L1147.99 970.30 L1155.29 973.17 L1162.59 976.05 L1169.89 978.92 L1177.19 981.78 L1184.49 984.65 L1191.78 987.51 L1199.08 990.38 L1206.38 993.24 L1213.68 996.10 L1220.98 998.95 L1228.28 1001.81 L1235.57 1004.66 L1242.87 1007.52 L1250.17 1010.37 L1257.47 1013.22 L1264.77 1016.07 L1272.06 1018.91 L1279.36 1021.76 L1286.66 1024.60 L1293.96 1027.45 L1301.26 1030.29 L1308.56 1033.13 L1315.85 1035.97 L1323.15 1038.81 L1330.45 1041.64 L1337.75 1044.48 L1345.05 1047.32 L1352.35 1050.15 L1359.64 1052.99 L1366.94 1055.82 L1374.24 1058.65 L1381.54 1061.48 L1388.84 1064.31 L1396.14 1067.14 L1403.43 1069.97 L1410.73 1072.80 L1418.03 1075.63 L1425.33 1078.46 L1432.63 1081.29 L1439.92 1084.11 L1447.22 1086.94 L1454.52 1089.76 L1461.82 1092.59 L1469.12 1095.41 L1476.42 1098.24 L1483.71 1101.06 L1491.01 1103.88 L1498.31 1106.71 L1505.61 1109.53 L1512.91 1112.35 L1520.21 1115.18 L1527.50 1118.00 L1534.80 1120.82 L1542.10 1123.64 L1549.40 1126.46 L1556.70 1129.28 L1564.00 1132.11 L1571.29 1134.94 L1578.59 1137.77 L1585.89 1140.61 L1593.19 1143.45 L1600.49 1146.29 L1607.79 1149.13 L1615.08 1151.97 L1622.38 1154.81 L1629.68 1157.64 L1636.98 1160.47 L1644.28 1163.29 L1651.57 1166.11 L1658.87 1168.93 L1666.17 1171.75 L1673.47 1174.56 L1680.77 1177.38 L1688.07 1180.20 L1695.36 1183.02 L1702.66 1185.84 L1709.96 1188.65 L1717.26 1191.47 L1724.56 1194.29 L1731.86 1197.11 L1739.15 1199.92 L1746.45 1202.74 L1753.75 1205.56 L1761.05 1208.38 L1768.35 1211.19 L1775.65 1214.01 L1782.94 1216.83 L1790.24 1219.64 L1797.54 1222.46 L1804.84 1225.28 L1812.14 1228.10 L1819.43 1230.91 L1826.73 1233.73 L1834.03 1236.55 L1841.33 1239.37 L1848.63 1242.19 L1855.93 1245.00 L1863.22 1247.82 L1870.52 1250.64 L1877.82 1253.46 L1885.12 1256.28 L1892.42 1259.09 L1899.72 1261.91 L1907.01 1264.73 L1914.31 1267.55 L1921.61 1270.37 L1928.91 1273.19 L1936.21 1276.01 L1943.51 1278.83 L1950.80 1281.65 L1958.10 1284.47 L1965.40 1287.29 L1972.70 1290.11 L1980.00 1292.93 L1987.30 1295.75 L1994.59 1298.57 L2001.89 1301.40 L2009.19 1304.22 L2016.49 1307.04 L2023.79 1309.86 L2031.08 1312.69 L2038.38 1315.51 L2045.68 1318.33 L2052.98 1321.16 L2060.28 1323.98 L2067.58 1326.80 L2074.87 1329.63 L2082.17 1332.45 L2089.47 1335.28 L2096.77 1338.11 L2104.07 1340.93 L2111.37 1343.76 L2118.66 1346.56 L2125.96 1349.32 L2133.26 1352.06 L2140.56 1354.77 L2147.86 1357.47 L2155.16 1360.17 L2162.45 1362.86 L2169.75 1365.55 L2177.05 1368.26 L2177.05 1387.26 L2169.75 1384.54 L2162.45 1381.83 L2155.16 1379.13 L2147.86 1376.42 L2140.56 1373.71 L2133.26 1370.98 L2125.96 1368.23 L2118.66 1365.45 L2111.37 1362.64 L2104.07 1359.80 L2096.77 1356.96 L2089.47 1354.12 L2082.17 1351.28 L2074.87 1348.44 L2067.58 1345.61 L2060.28 1342.77 L2052.98 1339.93 L2045.68 1337.09 L2038.38 1334.26 L2031.08 1331.42 L2023.79 1328.59 L2016.49 1325.75 L2009.19 1322.92 L2001.89 1320.08 L1994.59 1317.25 L1987.30 1314.41 L1980.00 1311.58 L1972.70 1308.74 L1965.40 1305.91 L1958.10 1303.08 L1950.80 1300.25 L1943.51 1297.41 L1936.21 1294.58 L1928.91 1291.75 L1921.61 1288.92 L1914.31 1286.09 L1907.01 1283.26 L1899.72 1280.43 L1892.42 1277.60 L1885.12 1274.77 L1877.82 1271.94 L1870.52 1269.11 L1863.22 1266.28 L1855.93 1263.45 L1848.63 1260.62 L1841.33 1257.79 L1834.03 1254.96 L1826.73 1252.14 L1819.43 1249.31 L1812.14 1246.48 L1804.84 1243.66 L1797.54 1240.83 L1790.24 1238.00 L1782.94 1235.18 L1775.65 1232.35 L1768.35 1229.52 L1761.05 1226.70 L1753.75 1223.87 L1746.45 1221.05 L1739.15 1218.22 L1731.86 1215.40 L1724.56 1212.57 L1717.26 1209.75 L1709.96 1206.92 L1702.66 1204.10 L1695.36 1201.28 L1688.07 1198.45 L1680.77 1195.63 L1673.47 1192.80 L1666.17 1189.98 L1658.87 1187.16 L1651.57 1184.33 L1644.28 1181.51 L1636.98 1178.69 L1629.68 1175.86 L1622.38 1173.02 L1615.08 1170.18 L1607.79 1167.34 L1600.49 1164.49 L1593.19 1161.65 L1585.89 1158.80 L1578.59 1155.96 L1571.29 1153.13 L1564.00 1150.30 L1556.70 1147.47 L1549.40 1144.65 L1542.10 1141.82 L1534.80 1139.00 L1527.50 1136.18 L1520.21 1133.35 L1512.91 1130.53 L1505.61 1127.70 L1498.31 1124.88 L1491.01 1122.05 L1483.71 1119.23 L1476.42 1116.40 L1469.12 1113.58 L1461.82 1110.75 L1454.52 1107.92 L1447.22 1105.10 L1439.92 1102.27 L1432.63 1099.44 L1425.33 1096.61 L1418.03 1093.79 L1410.73 1090.96 L1403.43 1088.13 L1396.14 1085.30 L1388.84 1082.46 L1381.54 1079.63 L1374.24 1076.80 L1366.94 1073.97 L1359.64 1071.13 L1352.35 1068.30 L1345.05 1065.46 L1337.75 1062.62 L1330.45 1059.79 L1323.15 1056.95 L1315.85 1054.11 L1308.56 1051.27 L1301.26 1048.43 L1293.96 1045.58 L1286.66 1042.74 L1279.36 1039.89 L1272.06 1037.05 L1264.77 1034.20 L1257.47 1031.35 L1250.17 1028.50 L1242.87 1025.65 L1235.57 1022.80 L1228.28 1019.94 L1220.98 1017.09 L1213.68 1014.23 L1206.38 1011.37 L1199.08 1008.51 L1191.78 1005.64 L1184.49 1002.78 L1177.19 999.91 L1169.89 997.04 L1162.59 994.17 L1155.29 991.30 L1147.99 988.43 L1140.70 985.55 L1133.40 982.65 L1126.10 979.72 L1118.80 976.75 L1111.50 973.76 L1104.20 970.75 L1096.91 967.73 L1089.61 964.70 L1082.31 961.68 L1075.01 958.68 L1067.71 955.69 L1060.41 952.72 L1053.12 949.78 L1045.82 946.83 L1038.52 943.87 L1031.22 940.92 L1023.92 937.96 L1016.63 935.00 L1009.33 932.04 L1002.03 929.07 L994.73 926.10 L987.43 923.13 L980.13 920.15 L972.84 917.17 L965.54 914.19 L958.24 911.20 L950.94 908.21 L943.64 905.22 L936.34 902.22 L929.05 899.21 L921.75 896.21 L914.45 893.19 L907.15 890.18 L899.85 887.16 L892.55 884.13 L885.26 881.10 L877.96 878.06 L870.66 875.01 L863.36 871.96 L856.06 868.91 L848.77 865.85 L841.47 862.78 L834.17 859.70 L826.87 856.62 L819.57 853.52 L812.27 850.42 L804.98 847.32 L797.68 844.20 L790.38 841.07 L783.08 837.94 L775.78 834.79 L768.48 831.64 L761.19 828.47 L753.89 825.30 L746.59 822.11 L739.29 818.91 L731.99 815.69 L724.69 812.47 L717.40 809.23 L710.10 805.97 L702.80 802.70 L695.50 799.44 L688.20 796.30 L680.90 793.23 L673.61 790.17 L666.31 787.06 L659.01 783.83 L651.71 780.53 L644.41 777.20 L637.12 773.84 L629.82 770.44 L622.52 767.01 L615.22 763.55 L607.92 760.04 L600.62 756.48 L593.33 752.88 L586.03 749.23 L578.73 745.52 L571.43 741.75 L564.13 737.92 L556.83 734.01 L549.54 729.99 L542.24 725.87 L534.94 721.66 L527.64 717.37 L520.34 713.00 L513.04 708.57 L505.75 704.10 L498.45 699.66 L491.15 695.08 L483.85 690.33 L476.55 685.38 L469.25 680.22 L461.96 674.86 L454.66 669.29 L447.36 663.16 L440.06 656.14 L432.76 648.61 L425.47 640.70 L418.17 631.44 L410.87 620.72 L403.57 607.71 L396.27 588.06 L388.97 562.82 L381.68 504.60 Z" fill="rgb(130,190,100)" fill-opacity="0.2" stroke="none"/>
<path d="M381.68 488.60 L388.97 546.58 L396.27 571.54 L403.57 590.92 L410.87 603.64 L418.17 614.09 L425.47 623.12 L432.76 630.83 L440.06 638.22 L447.36 645.16 L454.66 651.29 L461.96 656.86 L469.25 662.21 L476.55 667.37 L483.85 672.31 L491.15 677.06 L498.45 681.64 L505.75 686.08 L513.04 690.55 L520.34 694.97 L527.64 699.33 L534.94 703.63 L542.24 707.84 L549.54 711.95 L556.83 715.97 L564.13 719.87 L571.43 723.70 L578.73 727.47 L586.03 731.17 L593.33 734.82 L600.62 738.42 L607.92 741.97 L615.22 745.48 L622.52 748.95 L629.82 752.37 L637.12 755.77 L644.41 759.12 L651.71 762.45 L659.01 765.75 L666.31 768.98 L673.61 772.09 L680.90 775.15 L688.20 778.22 L695.50 781.36 L702.80 784.61 L710.10 787.88 L717.40 791.14 L724.69 794.38 L731.99 797.60 L739.29 800.82 L746.59 804.01 L753.89 807.20 L761.19 810.38 L768.48 813.54 L775.78 816.70 L783.08 819.84 L790.38 822.97 L797.68 826.10 L804.98 829.21 L812.27 832.32 L819.57 835.42 L826.87 838.51 L834.17 841.59 L841.47 844.67 L848.77 847.74 L856.06 850.80 L863.36 853.85 L870.66 856.90 L877.96 859.95 L885.26 862.98 L892.55 866.02 L899.85 869.04 L907.15 872.06 L914.45 875.08 L921.75 878.09 L929.05 881.10 L936.34 884.10 L943.64 887.10 L950.94 890.09 L958.24 893.08 L965.54 896.07 L972.84 899.05 L980.13 902.03 L987.43 905.01 L994.73 907.98 L1002.03 910.95 L1009.33 913.92 L1016.63 916.88 L1023.92 919.84 L1031.22 922.80 L1038.52 925.75 L1045.82 928.70 L1053.12 931.65 L1060.41 934.60 L1067.71 937.56 L1075.01 940.55 L1082.31 943.56 L1089.61 946.58 L1096.91 949.60 L1104.20 952.62 L1111.50 955.63 L1118.80 958.62 L1126.10 961.59 L1133.40 964.53 L1140.70 967.42 L1147.99 970.30 L1155.29 973.17 L1162.59 976.05 L1169.89 978.92 L1177.19 981.78 L1184.49 984.65 L1191.78 987.51 L1199.08 990.38 L1206.38 993.24 L1213.68 996.10 L1220.98 998.95 L1228.28 1001.81 L1235.57 1004.66 L1242.87 1007.52 L1250.17 1010.37 L1257.47 1013.22 L1264.77 1016.07 L1272.06 1018.91 L1279.36 1021.76 L1286.66 1024.60 L1293.96 1027.45 L1301.26 1030.29 L1308.56 1033.13 L1315.85 1035.97 L1323.15 1038.81 L1330.45 1041.64 L1337.75 1044.48 L1345.05 1047.32 L1352.35 1050.15 L1359.64 1052.99 L1366.94 1055.82 L1374.24 1058.65 L1381.54 1061.48 L1388.84 1064.31 L1396.14 1067.14 L1403.43 1069.97 L1410.73 1072.80 L1418.03 1075.63 L1425.33 1078.46 L1432.63 1081.29 L1439.92 1084.11 L1447.22 1086.94 L1454.52 1089.76 L1461.82 1092.59 L1469.12 1095.41 L1476.42 1098.24 L1483.71 1101.06 L1491.01 1103.88 L1498.31 1106.71 L1505.61 1109.53 L1512.91 1112.35 L1520.21 1115.18 L1527.50 1118.00 L1534.80 1120.82 L1542.10 1123.64 L1549.40 1126.46 L1556.70 1129.28 L1564.00 1132.11 L1571.29 1134.94 L1578.59 1137.77 L1585.89 1140.61 L1593.19 1143.45 L1600.49 1146.29 L1607.79 1149.13 L1615.08 1151.97 L1622.38 1154.81 L1629.68 1157.64 L1636.98 1160.47 L1644.28 1163.29 L1651.57 1166.11 L1658.87 1168.93 L1666.17 1171.75 L1673.47 1174.56 L1680.77 1177.38 L1688.07 1180.20 L1695.36 1183.02 L1702.66 1185.84 L1709.96 1188.65 L1717.26 1191.47 L1724.56 1194.29 L1731.86 1197.11 L1739.15 1199.92 L1746.45 1202.74 L1753.75 1205.56 L1761.05 1208.38 L1768.35 1211.19 L1775.65 1214.01 L1782.94 1216.83 L1790.24 1219.64 L1797.54 1222.46 L1804.84 1225.28 L1812.14 1228.10 L1819.43 1230.91 L1826.73 1233.73 L1834.03 1236.55 L1841.33 1239.37 L1848.63 1242.19 L1855.93 1245.00 L1863.22 1247.82 L1870.52 1250.64 L1877.82 1253.46 L1885.12 1256.28 L1892.42 1259.09 L1899.72 1261.91 L1907.01 1264.73 L1914.31 1267.55 L1921.61 1270.37 L1928.91 1273.19 L1936.21 1276.01 L1943.51 1278.83 L1950.80 1281.65 L1958.10 1284.47 L1965.40 1287.29 L1972.70 1290.11 L1980.00 1292.93 L1987.30 1295.75 L1994.59 1298.57 L2001.89 1301.40 L2009.19 1304.22 L2016.49 1307.04 L2023.79 1309.86 L2031.08 1312.69 L2038.38 1315.51 L2045.68 1318.33 L2052.98 1321.16 L2060.28 1323.98 L2067.58 1326.80 L2074.87 1329.63 L2082.17 1332.45 L2089.47 1335.28 L2096.77 1338.11 L2104.07 1340.93 L2111.37 1343.76 L2118.66 1346.56 L2125.96 1349.32 L2133.26 1352.06 L2140.56 1354.77 L2147.86 1357.47 L2155.16 1360.17 L2162.45 1362.86 L2169.75 1365.55 L2177.05 1368.26 L2177.05 1387.26 L2169.75 1384.54 L2162.45 1381.83 L2155.16 1379.13 L2147.86 1376.42 L2140.56 1373.71 L2133.26 1370.98 L2125.96 1368.23 L2118.66 1365.45 L2111.37 1362.64 L2104.07 1359.80 L2096.77 1356.96 L2089.47 1354.12 L2082.17 1351.28 L2074.87 1348.44 L2067.58 1345.61 L2060.28 1342.77 L2052.98 1339.93 L2045.68 1337.09 L2038.38 1334.26 L2031.08 1331.42 L2023.79 1328.59 L2016.49 1325.75 L2009.19 1322.92 L2001.89 1320.08 L1994.59 1317.25 L1987.30 1314.41 L1980.00 1311.58 L1972.70 1308.74 L1965.40 1305.91 L1958.10 1303.08 L1950.80 1300.25 L1943.51 1297.41 L1936.21 1294.58 L1928.91 1291.75 L1921.61 1288.92 L1914.31 1286.09 L1907.01 1283.26 L1899.72 1280.43 L1892.42 1277.60 L1885.12 1274.77 L1877.82 1271.94 L1870.52 1269.11 L1863.22 1266.28 L1855.93 1263.45 L1848.63 1260.62 L1841.33 1257.79 L1834.03 1254.96 L1826.73 1252.14 L1819.43 1249.31 L1812.14 1246.48 L1804.84 1243.66 L1797.54 1240.83 L1790.24 1238.00 L1782.94 1235.18 L1775.65 1232.35 L1768.35 1229.52 L1761.05 1226.70 L1753.75 1223.87 L1746.45 1221.05 L1739.15 1218.22 L1731.86 1215.40 L1724.56 1212.57 L1717.26 1209.75 L1709.96 1206.92 L1702.66 1204.10 L1695.36 1201.28 L1688.07 1198.45 L1680.77 1195.63 L1673.47 1192.80 L1666.17 1189.98 L1658.87 1187.16 L1651.57 1184.33 L1644.28 1181.51 L1636.98 1178.69 L1629.68 1175.86 L1622.38 1173.02 L1615.08 1170.18 L1607.79 1167.34 L1600.49 1164.49 L1593.19 1161.65 L1585.89 1158.80 L1578.59 1155.96 L1571.29 1153.13 L1564.00 1150.30 L1556.70 1147.47 L1549.40 1144.65 L1542.10 1141.82 L1534.80 1139.00 L1527.50 1136.18 L1520.21 1133.35 L1512.91 1130.53 L1505.61 1127.70 L1498.31 1124.88 L1491.01 1122.05 L1483.71 1119.23 L1476.42 1116.40 L1469.12 1113.58 L1461.82 1110.75 L1454.52 1107.92 L1447.22 1105.10 L1439.92 1102.27 L1432.63 1099.44 L1425.33 1096.61 L1418.03 1093.79 L1410.73 1090.96 L1403.43 1088.13 L1396.14 1085.30 L1388.84 1082.46 L1381.54 1079.63 L1374.24 1076.80 L1366.94 1073.97 L1359.64 1071.13 L1352.35 1068.30 L1345.05 1065.46 L1337.75 1062.62 L1330.45 1059.79 L1323.15 1056.95 L1315.85 1054.11 L1308.56 1051.27 L1301.26 1048.43 L1293.96 1045.58 L1286.66 1042.74 L1279.36 1039.89 L1272.06 1037.05 L1264.77 1034.20 L1257.47 1031.35 L1250.17 1028.50 L1242.87 1025.65 L1235.57 1022.80 L1228.28 1019.94 L1220.98 1017.09 L1213.68 1014.23 L1206.38 1011.37 L1199.08 1008.51 L1191.78 1005.64 L1184.49 1002.78 L1177.19 999.91 L1169.89 997.04 L1162.59 994.17 L1155.29 991.30 L1147.99 988.43 L1140.70 985.55 L1133.40 982.65 L1126.10 979.72 L1118.80 976.75 L1111.50 973.76 L1104.20 970.75 L1096.91 967.73 L1089.61 964.70 L1082.31 961.68 L1075.01 958.68 L1067.71 955.69 L1060.41 952.72 L1053.12 949.78 L1045.82 946.83 L1038.52 943.87 L1031.22 940.92 L1023.92 937.96 L1016.63 935.00 L1009.33 932.04 L1002.03 929.07 L994.73 926.10 L987.43 923.13 L980.13 920.15 L972.84 917.17 L965.54 914.19 L958.24 911.20 L950.94 908.21 L943.64 905.22 L936.34 902.22 L929.05 899.21 L921.75 896.21 L914.45 893.19 L907.15 890.18 L899.85 887.16 L892.55 884.13 L885.26 881.10 L877.96 878.06 L870.66 875.01 L863.36 871.96 L856.06 868.91 L848.77 865.85 L841.47 862.78 L834.17 859.70 L826.87 856.62 L819.57 853.52 L812.27 850.42 L804.98 847.32 L797.68 844.20 L790.38 841.07 L783.08 837.94 L775.78 834.79 L768.48 831.64 L761.19 828.47 L753.89 825.30 L746.59 822.11 L739.29 818.91 L731.99 815.69 L724.69 812.47 L717.40 809.23 L710.10 805.97 L702.80 802.70 L695.50 799.44 L688.20 796.30 L680.90 793.23 L673.61 790.17 L666.31 787.06 L659.01 783.83 L651.71 780.53 L644.41 777.20 L637.12 773.84 L629.82 770.44 L622.52 767.01 L615.22 763.55 L607.92 760.04 L600.62 756.48 L593.33 752.88 L586.03 749.23 L578.73 745.52 L571.43 741.75 L564.13 737.92 L556.83 734.01 L549.54 729.99 L542.24 725.87 L534.94 721.66 L527.64 717.37 L520.34 713.00 L513.04 708.57 L505.75 704.10 L498.45 699.66 L491.15 695.08 L483.85 690.33 L476.55 685.38 L469.25 680.22 L461.96 674.86 L454.66 669.29 L447.36 663.16 L440.06 656.14 L432.76 648.61 L425.47 640.70 L418.17 631.44 L410.87 620.72 L403.57 607.71 L396.27 588.06 L388.97 562.82 L381.68 504.60 Z" fill="none" stroke="#c7e6ba" stroke-width="3.50"/>
<rect x="2175.00" y="1494.22" width="2.05" height="34.40" fill="#ffffff"/>
<path d="M381.68 734.50 L388.97 738.37 L396.27 742.10 L403.57 745.91 L410.87 750.00 L418.17 754.21 L425.47 758.36 L432.76 762.44 L440.06 766.46 L447.36 770.41 L454.66 774.28 L461.96 778.01 L469.25 781.66 L476.55 785.31 L483.85 789.02 L491.15 792.72 L498.45 796.41 L505.75 800.08 L513.04 803.73 L520.34 807.36 L527.64 810.96 L534.94 814.55 L542.24 818.12 L549.54 821.66 L556.83 825.19 L564.13 828.71 L571.43 832.20 L578.73 835.68 L586.03 839.14 L593.33 842.59 L600.62 846.02 L607.92 849.43 L615.22 852.83 L622.52 856.22 L629.82 859.59 L637.12 862.96 L644.41 866.31 L651.71 869.65 L659.01 872.98 L666.31 876.31 L673.61 879.62 L680.90 882.92 L688.20 886.22 L695.50 889.50 L702.80 892.78 L710.10 896.05 L717.40 899.31 L724.69 902.56 L731.99 905.81 L739.29 909.05 L746.59 912.28 L753.89 915.50 L761.19 918.72 L768.48 921.93 L775.78 925.14 L783.08 928.34 L790.38 931.53 L797.68 934.72 L804.98 937.90 L812.27 941.07 L819.57 944.22 L826.87 947.34 L834.17 950.45 L841.47 953.53 L848.77 956.62 L856.06 959.69 L863.36 962.77 L870.66 965.85 L877.96 968.95 L885.26 972.06 L892.55 975.20 L899.85 978.34 L907.15 981.48 L914.45 984.63 L921.75 987.77 L929.05 990.91 L936.34 994.06 L943.64 997.20 L950.94 1000.34 L958.24 1003.48 L965.54 1006.61 L972.84 1009.75 L980.13 1012.88 L987.43 1016.00 L994.73 1019.13 L1002.03 1022.25 L1009.33 1025.36 L1016.63 1028.47 L1023.92 1031.57 L1031.22 1034.67 L1038.52 1037.76 L1045.82 1040.85 L1053.12 1043.93 L1060.41 1047.00 L1067.71 1050.06 L1075.01 1053.10 L1082.31 1056.13 L1089.61 1059.16 L1096.91 1062.17 L1104.20 1065.19 L1111.50 1068.20 L1118.80 1071.21 L1126.10 1074.23 L1133.40 1077.25 L1140.70 1080.29 L1147.99 1083.32 L1155.29 1086.36 L1162.59 1089.39 L1169.89 1092.42 L1177.19 1095.45 L1184.49 1098.47 L1191.78 1101.50 L1199.08 1104.52 L1206.38 1107.54 L1213.68 1110.56 L1220.98 1113.58 L1228.28 1116.59 L1235.57 1119.61 L1242.87 1122.62 L1250.17 1125.63 L1257.47 1128.64 L1264.77 1131.65 L1272.06 1134.65 L1279.36 1137.66 L1286.66 1140.66 L1293.96 1143.66 L1301.26 1146.66 L1308.56 1149.66 L1315.85 1152.65 L1323.15 1155.65 L1330.45 1158.64 L1337.75 1161.63 L1345.05 1164.62 L1352.35 1167.61 L1359.64 1170.60 L1366.94 1173.58 L1374.24 1176.57 L1381.54 1179.55 L1388.84 1182.53 L1396.14 1185.51 L1403.43 1188.49 L1410.73 1191.46 L1418.03 1194.44 L1425.33 1197.41 L1432.63 1200.38 L1439.92 1203.35 L1447.22 1206.32 L1454.52 1209.29 L1461.82 1212.25 L1469.12 1215.22 L1476.42 1218.18 L1483.71 1221.14 L1491.01 1224.10 L1498.31 1227.06 L1505.61 1230.02 L1512.91 1232.97 L1520.21 1235.93 L1527.50 1238.88 L1534.80 1241.83 L1542.10 1244.78 L1549.40 1247.73 L1556.70 1250.67 L1564.00 1253.62 L1571.29 1256.56 L1578.59 1259.50 L1585.89 1262.43 L1593.19 1265.36 L1600.49 1268.29 L1607.79 1271.22 L1615.08 1274.15 L1622.38 1277.08 L1629.68 1280.01 L1636.98 1282.94 L1644.28 1285.87 L1651.57 1288.79 L1658.87 1291.72 L1666.17 1294.65 L1673.47 1297.57 L1680.77 1300.49 L1688.07 1303.42 L1695.36 1306.33 L1702.66 1309.25 L1709.96 1312.17 L1717.26 1315.08 L1724.56 1318.00 L1731.86 1320.91 L1739.15 1323.82 L1746.45 1326.73 L1753.75 1329.64 L1761.05 1332.55 L1768.35 1335.45 L1775.65 1338.36 L1782.94 1341.26 L1790.24 1344.16 L1797.54 1347.06 L1804.84 1349.97 L1812.14 1352.86 L1819.43 1355.76 L1826.73 1358.66 L1834.03 1361.56 L1841.33 1364.45 L1848.63 1367.35 L1855.93 1370.24 L1863.22 1373.14 L1870.52 1376.03 L1877.82 1378.92 L1885.12 1381.81 L1892.42 1384.70 L1899.72 1387.59 L1907.01 1390.48 L1914.31 1393.37 L1921.61 1396.26 L1928.91 1399.15 L1936.21 1402.03 L1943.51 1404.92 L1950.80 1407.81 L1958.10 1410.69 L1965.40 1413.58 L1972.70 1416.46 L1980.00 1419.35 L1987.30 1422.23 L1994.59 1425.12 L2001.89 1428.00 L2009.19 1430.89 L2016.49 1433.77 L2023.79 1436.66 L2031.08 1439.54 L2038.38 1442.42 L2045.68 1445.31 L2052.98 1448.20 L2060.28 1451.08 L2067.58 1453.97 L2074.87 1456.86 L2082.17 1459.74 L2089.47 1462.62 L2096.77 1465.50 L2104.07 1468.38 L2111.37 1471.25 L2118.66 1474.09 L2125.96 1476.90 L2133.26 1479.68 L2140.56 1482.44 L2147.86 1485.18 L2155.16 1487.87 L2162.45 1490.46 L2169.75 1492.96 L2177.05 1495.42 L2177.05 1527.42 L2169.75 1524.08 L2162.45 1520.79 L2155.16 1517.58 L2147.86 1514.48 L2140.56 1511.42 L2133.26 1508.38 L2125.96 1505.37 L2118.66 1502.40 L2111.37 1499.46 L2104.07 1496.55 L2096.77 1493.64 L2089.47 1490.74 L2082.17 1487.84 L2074.87 1484.93 L2067.58 1482.03 L2060.28 1479.13 L2052.98 1476.23 L2045.68 1473.33 L2038.38 1470.42 L2031.08 1467.51 L2023.79 1464.60 L2016.49 1461.69 L2009.19 1458.77 L2001.89 1455.86 L1994.59 1452.94 L1987.30 1450.03 L1980.00 1447.11 L1972.70 1444.19 L1965.40 1441.27 L1958.10 1438.35 L1950.80 1435.42 L1943.51 1432.50 L1936.21 1429.58 L1928.91 1426.65 L1921.61 1423.72 L1914.31 1420.80 L1907.01 1417.87 L1899.72 1414.94 L1892.42 1412.01 L1885.12 1409.07 L1877.82 1406.14 L1870.52 1403.21 L1863.22 1400.27 L1855.93 1397.34 L1848.63 1394.40 L1841.33 1391.47 L1834.03 1388.53 L1826.73 1385.59 L1819.43 1382.65 L1812.14 1379.71 L1804.84 1376.77 L1797.54 1373.83 L1790.24 1370.89 L1782.94 1367.95 L1775.65 1365.01 L1768.35 1362.06 L1761.05 1359.12 L1753.75 1356.17 L1746.45 1353.23 L1739.15 1350.28 L1731.86 1347.34 L1724.56 1344.39 L1717.26 1341.45 L1709.96 1338.50 L1702.66 1335.55 L1695.36 1332.60 L1688.07 1329.65 L1680.77 1326.71 L1673.47 1323.76 L1666.17 1320.81 L1658.87 1317.86 L1651.57 1314.91 L1644.28 1311.96 L1636.98 1309.01 L1629.68 1306.06 L1622.38 1303.12 L1615.08 1300.17 L1607.79 1297.23 L1600.49 1294.29 L1593.19 1291.35 L1585.89 1288.41 L1578.59 1285.47 L1571.29 1282.52 L1564.00 1279.57 L1556.70 1276.62 L1549.40 1273.66 L1542.10 1270.71 L1534.80 1267.75 L1527.50 1264.79 L1520.21 1261.83 L1512.91 1258.87 L1505.61 1255.91 L1498.31 1252.94 L1491.01 1249.98 L1483.71 1247.01 L1476.42 1244.04 L1469.12 1241.07 L1461.82 1238.10 L1454.52 1235.13 L1447.22 1232.16 L1439.92 1229.18 L1432.63 1226.21 L1425.33 1223.23 L1418.03 1220.25 L1410.73 1217.27 L1403.43 1214.29 L1396.14 1211.31 L1388.84 1208.32 L1381.54 1205.33 L1374.24 1202.35 L1366.94 1199.36 L1359.64 1196.37 L1352.35 1193.38 L1345.05 1190.38 L1337.75 1187.39 L1330.45 1184.39 L1323.15 1181.40 L1315.85 1178.40 L1308.56 1175.40 L1301.26 1172.39 L1293.96 1169.39 L1286.66 1166.38 L1279.36 1163.38 L1272.06 1160.37 L1264.77 1157.36 L1257.47 1154.35 L1250.17 1151.33 L1242.87 1148.32 L1235.57 1145.30 L1228.28 1142.28 L1220.98 1139.26 L1213.68 1136.24 L1206.38 1133.22 L1199.08 1130.19 L1191.78 1127.16 L1184.49 1124.13 L1177.19 1121.10 L1169.89 1118.07 L1162.59 1115.03 L1155.29 1112.00 L1147.99 1108.96 L1140.70 1105.92 L1133.40 1102.88 L1126.10 1099.85 L1118.80 1096.83 L1111.50 1093.81 L1104.20 1090.79 L1096.91 1087.77 L1089.61 1084.75 L1082.31 1081.72 L1075.01 1078.68 L1067.71 1075.63 L1060.41 1072.57 L1053.12 1069.50 L1045.82 1066.41 L1038.52 1063.32 L1031.22 1060.23 L1023.92 1057.12 L1016.63 1054.02 L1009.33 1050.90 L1002.03 1047.78 L994.73 1044.66 L987.43 1041.53 L980.13 1038.40 L972.84 1035.26 L965.54 1032.13 L958.24 1028.99 L950.94 1025.84 L943.64 1022.70 L936.34 1019.55 L929.05 1016.40 L921.75 1013.25 L914.45 1010.10 L907.15 1006.95 L899.85 1003.80 L892.55 1000.65 L885.26 997.51 L877.96 994.39 L870.66 991.28 L863.36 988.19 L856.06 985.10 L848.77 982.01 L841.47 978.92 L834.17 975.81 L826.87 972.68 L819.57 969.52 L812.27 966.34 L804.98 963.12 L797.68 959.89 L790.38 956.65 L783.08 953.41 L775.78 950.15 L768.48 946.88 L761.19 943.60 L753.89 940.31 L746.59 937.01 L739.29 933.70 L731.99 930.39 L724.69 927.06 L717.40 923.72 L710.10 920.38 L702.80 917.02 L695.50 913.66 L688.20 910.28 L680.90 906.90 L673.61 903.51 L666.31 900.10 L659.01 896.69 L651.71 893.27 L644.41 889.83 L637.12 886.39 L629.82 882.94 L622.52 879.48 L615.22 876.00 L607.92 872.52 L600.62 869.02 L593.33 865.51 L586.03 861.99 L578.73 858.44 L571.43 854.88 L564.13 851.30 L556.83 847.70 L549.54 844.08 L542.24 840.44 L534.94 836.77 L527.64 833.08 L520.34 829.36 L513.04 825.62 L505.75 821.85 L498.45 818.05 L491.15 814.21 L483.85 810.33 L476.55 806.38 L469.25 802.32 L461.96 798.18 L454.66 794.04 L447.36 789.95 L440.06 785.86 L432.76 781.73 L425.47 777.55 L418.17 773.32 L410.87 769.01 L403.57 764.81 L396.27 760.90 L388.97 757.07 L381.68 753.10 Z" fill="rgb(245,100,50)" fill-opacity="0.2" stroke="none"/>
<path d="M381.68 734.50 L388.97 738.37 L396.27 742.10 L403.57 745.91 L410.87 750.00 L418.17 754.21 L425.47 758.36 L432.76 762.44 L440.06 766.46 L447.36 770.41 L454.66 774.28 L461.96 778.01 L469.25 781.66 L476.55 785.31 L483.85 789.02 L491.15 792.72 L498.45 796.41 L505.75 800.08 L513.04 803.73 L520.34 807.36 L527.64 810.96 L534.94 814.55 L542.24 818.12 L549.54 821.66 L556.83 825.19 L564.13 828.71 L571.43 832.20 L578.73 835.68 L586.03 839.14 L593.33 842.59 L600.62 846.02 L607.92 849.43 L615.22 852.83 L622.52 856.22 L629.82 859.59 L637.12 862.96 L644.41 866.31 L651.71 869.65 L659.01 872.98 L666.31 876.31 L673.61 879.62 L680.90 882.92 L688.20 886.22 L695.50 889.50 L702.80 892.78 L710.10 896.05 L717.40 899.31 L724.69 902.56 L731.99 905.81 L739.29 909.05 L746.59 912.28 L753.89 915.50 L761.19 918.72 L768.48 921.93 L775.78 925.14 L783.08 928.34 L790.38 931.53 L797.68 934.72 L804.98 937.90 L812.27 941.07 L819.57 944.22 L826.87 947.34 L834.17 950.45 L841.47 953.53 L848.77 956.62 L856.06 959.69 L863.36 962.77 L870.66 965.85 L877.96 968.95 L885.26 972.06 L892.55 975.20 L899.85 978.34 L907.15 981.48 L914.45 984.63 L921.75 987.77 L929.05 990.91 L936.34 994.06 L943.64 997.20 L950.94 1000.34 L958.24 1003.48 L965.54 1006.61 L972.84 1009.75 L980.13 1012.88 L987.43 1016.00 L994.73 1019.13 L1002.03 1022.25 L1009.33 1025.36 L1016.63 1028.47 L1023.92 1031.57 L1031.22 1034.67 L1038.52 1037.76 L1045.82 1040.85 L1053.12 1043.93 L1060.41 1047.00 L1067.71 1050.06 L1075.01 1053.10 L1082.31 1056.13 L1089.61 1059.16 L1096.91 1062.17 L1104.20 1065.19 L1111.50 1068.20 L1118.80 1071.21 L1126.10 1074.23 L1133.40 1077.25 L1140.70 1080.29 L1147.99 1083.32 L1155.29 1086.36 L1162.59 1089.39 L1169.89 1092.42 L1177.19 1095.45 L1184.49 1098.47 L1191.78 1101.50 L1199.08 1104.52 L1206.38 1107.54 L1213.68 1110.56 L1220.98 1113.58 L1228.28 1116.59 L1235.57 1119.61 L1242.87 1122.62 L1250.17 1125.63 L1257.47 1128.64 L1264.77 1131.65 L1272.06 1134.65 L1279.36 1137.66 L1286.66 1140.66 L1293.96 1143.66 L1301.26 1146.66 L1308.56 1149.66 L1315.85 1152.65 L1323.15 1155.65 L1330.45 1158.64 L1337.75 1161.63 L1345.05 1164.62 L1352.35 1167.61 L1359.64 1170.60 L1366.94 1173.58 L1374.24 1176.57 L1381.54 1179.55 L1388.84 1182.53 L1396.14 1185.51 L1403.43 1188.49 L1410.73 1191.46 L1418.03 1194.44 L1425.33 1197.41 L1432.63 1200.38 L1439.92 1203.35 L1447.22 1206.32 L1454.52 1209.29 L1461.82 1212.25 L1469.12 1215.22 L1476.42 1218.18 L1483.71 1221.14 L1491.01 1224.10 L1498.31 1227.06 L1505.61 1230.02 L1512.91 1232.97 L1520.21 1235.93 L1527.50 1238.88 L1534.80 1241.83 L1542.10 1244.78 L1549.40 1247.73 L1556.70 1250.67 L1564.00 1253.62 L1571.29 1256.56 L1578.59 1259.50 L1585.89 1262.43 L1593.19 1265.36 L1600.49 1268.29 L1607.79 1271.22 L1615.08 1274.15 L1622.38 1277.08 L1629.68 1280.01 L1636.98 1282.94 L1644.28 1285.87 L1651.57 1288.79 L1658.87 1291.72 L1666.17 1294.65 L1673.47 1297.57 L1680.77 1300.49 L1688.07 1303.42 L1695.36 1306.33 L1702.66 1309.25 L1709.96 1312.17 L1717.26 1315.08 L1724.56 1318.00 L1731.86 1320.91 L1739.15 1323.82 L1746.45 1326.73 L1753.75 1329.64 L1761.05 1332.55 L1768.35 1335.45 L1775.65 1338.36 L1782.94 1341.26 L1790.24 1344.16 L1797.54 1347.06 L1804.84 1349.97 L1812.14 1352.86 L1819.43 1355.76 L1826.73 1358.66 L1834.03 1361.56 L1841.33 1364.45 L1848.63 1367.35 L1855.93 1370.24 L1863.22 1373.14 L1870.52 1376.03 L1877.82 1378.92 L1885.12 1381.81 L1892.42 1384.70 L1899.72 1387.59 L1907.01 1390.48 L1914.31 1393.37 L1921.61 1396.26 L1928.91 1399.15 L1936.21 1402.03 L1943.51 1404.92 L1950.80 1407.81 L1958.10 1410.69 L1965.40 1413.58 L1972.70 1416.46 L1980.00 1419.35 L1987.30 1422.23 L1994.59 1425.12 L2001.89 1428.00 L2009.19 1430.89 L2016.49 1433.77 L2023.79 1436.66 L2031.08 1439.54 L2038.38 1442.42 L2045.68 1445.31 L2052.98 1448.20 L2060.28 1451.08 L2067.58 1453.97 L2074.87 1456.86 L2082.17 1459.74 L2089.47 1462.62 L2096.77 1465.50 L2104.07 1468.38 L2111.37 1471.25 L2118.66 1474.09 L2125.96 1476.90 L2133.26 1479.68 L2140.56 1482.44 L2147.86 1485.18 L2155.16 1487.87 L2162.45 1490.46 L2169.75 1492.96 L2177.05 1495.42 L2177.05 1527.42 L2169.75 1524.08 L2162.45 1520.79 L2155.16 1517.58 L2147.86 1514.48 L2140.56 1511.42 L2133.26 1508.38 L2125.96 1505.37 L2118.66 1502.40 L2111.37 1499.46 L2104.07 1496.55 L2096.77 1493.64 L2089.47 1490.74 L2082.17 1487.84 L2074.87 1484.93 L2067.58 1482.03 L2060.28 1479.13 L2052.98 1476.23 L2045.68 1473.33 L2038.38 1470.42 L2031.08 1467.51 L2023.79 1464.60 L2016.49 1461.69 L2009.19 1458.77 L2001.89 1455.86 L1994.59 1452.94 L1987.30 1450.03 L1980.00 1447.11 L1972.70 1444.19 L1965.40 1441.27 L1958.10 1438.35 L1950.80 1435.42 L1943.51 1432.50 L1936.21 1429.58 L1928.91 1426.65 L1921.61 1423.72 L1914.31 1420.80 L1907.01 1417.87 L1899.72 1414.94 L1892.42 1412.01 L1885.12 1409.07 L1877.82 1406.14 L1870.52 1403.21 L1863.22 1400.27 L1855.93 1397.34 L1848.63 1394.40 L1841.33 1391.47 L1834.03 1388.53 L1826.73 1385.59 L1819.43 1382.65 L1812.14 1379.71 L1804.84 1376.77 L1797.54 1373.83 L1790.24 1370.89 L1782.94 1367.95 L1775.65 1365.01 L1768.35 1362.06 L1761.05 1359.12 L1753.75 1356.17 L1746.45 1353.23 L1739.15 1350.28 L1731.86 1347.34 L1724.56 1344.39 L1717.26 1341.45 L1709.96 1338.50 L1702.66 1335.55 L1695.36 1332.60 L1688.07 1329.65 L1680.77 1326.71 L1673.47 1323.76 L1666.17 1320.81 L1658.87 1317.86 L1651.57 1314.91 L1644.28 1311.96 L1636.98 1309.01 L1629.68 1306.06 L1622.38 1303.12 L1615.08 1300.17 L1607.79 1297.23 L1600.49 1294.29 L1593.19 1291.35 L1585.89 1288.41 L1578.59 1285.47 L1571.29 1282.52 L1564.00 1279.57 L1556.70 1276.62 L1549.40 1273.66 L1542.10 1270.71 L1534.80 1267.75 L1527.50 1264.79 L1520.21 1261.83 L1512.91 1258.87 L1505.61 1255.91 L1498.31 1252.94 L1491.01 1249.98 L1483.71 1247.01 L1476.42 1244.04 L1469.12 1241.07 L1461.82 1238.10 L1454.52 1235.13 L1447.22 1232.16 L1439.92 1229.18 L1432.63 1226.21 L1425.33 1223.23 L1418.03 1220.25 L1410.73 1217.27 L1403.43 1214.29 L1396.14 1211.31 L1388.84 1208.32 L1381.54 1205.33 L1374.24 1202.35 L1366.94 1199.36 L1359.64 1196.37 L1352.35 1193.38 L1345.05 1190.38 L1337.75 1187.39 L1330.45 1184.39 L1323.15 1181.40 L1315.85 1178.40 L1308.56 1175.40 L1301.26 1172.39 L1293.96 1169.39 L1286.66 1166.38 L1279.36 1163.38 L1272.06 1160.37 L1264.77 1157.36 L1257.47 1154.35 L1250.17 1151.33 L1242.87 1148.32 L1235.57 1145.30 L1228.28 1142.28 L1220.98 1139.26 L1213.68 1136.24 L1206.38 1133.22 L1199.08 1130.19 L1191.78 1127.16 L1184.49 1124.13 L1177.19 1121.10 L1169.89 1118.07 L1162.59 1115.03 L1155.29 1112.00 L1147.99 1108.96 L1140.70 1105.92 L1133.40 1102.88 L1126.10 1099.85 L1118.80 1096.83 L1111.50 1093.81 L1104.20 1090.79 L1096.91 1087.77 L1089.61 1084.75 L1082.31 1081.72 L1075.01 1078.68 L1067.71 1075.63 L1060.41 1072.57 L1053.12 1069.50 L1045.82 1066.41 L1038.52 1063.32 L1031.22 1060.23 L1023.92 1057.12 L1016.63 1054.02 L1009.33 1050.90 L1002.03 1047.78 L994.73 1044.66 L987.43 1041.53 L980.13 1038.40 L972.84 1035.26 L965.54 1032.13 L958.24 1028.99 L950.94 1025.84 L943.64 1022.70 L936.34 1019.55 L929.05 1016.40 L921.75 1013.25 L914.45 1010.10 L907.15 1006.95 L899.85 1003.80 L892.55 1000.65 L885.26 997.51 L877.96 994.39 L870.66 991.28 L863.36 988.19 L856.06 985.10 L848.77 982.01 L841.47 978.92 L834.17 975.81 L826.87 972.68 L819.57 969.52 L812.27 966.34 L804.98 963.12 L797.68 959.89 L790.38 956.65 L783.08 953.41 L775.78 950.15 L768.48 946.88 L761.19 943.60 L753.89 940.31 L746.59 937.01 L739.29 933.70 L731.99 930.39 L724.69 927.06 L717.40 923.72 L710.10 920.38 L702.80 917.02 L695.50 913.66 L688.20 910.28 L680.90 906.90 L673.61 903.51 L666.31 900.10 L659.01 896.69 L651.71 893.27 L644.41 889.83 L637.12 886.39 L629.82 882.94 L622.52 879.48 L615.22 876.00 L607.92 872.52 L600.62 869.02 L593.33 865.51 L586.03 861.99 L578.73 858.44 L571.43 854.88 L564.13 851.30 L556.83 847.70 L549.54 844.08 L542.24 840.44 L534.94 836.77 L527.64 833.08 L520.34 829.36 L513.04 825.62 L505.75 821.85 L498.45 818.05 L491.15 814.21 L483.85 810.33 L476.55 806.38 L469.25 802.32 L461.96 798.18 L454.66 794.04 L447.36 789.95 L440.06 785.86 L432.76 781.73 L425.47 777.55 L418.17 773.32 L410.87 769.01 L403.57 764.81 L396.27 760.90 L388.97 757.07 L381.68 753.10 Z" fill="none" stroke="#fac0c4" stroke-width="3.50"/>
<path d="M936.34 190.40 L943.64 371.00 L950.94 404.00 L958.24 426.50 L965.54 440.83 L972.84 452.46 L980.13 461.65 L987.43 469.75 L994.73 476.85 L1002.03 483.22 L1009.33 488.79 L1016.63 493.99 L1023.92 498.81 L1031.22 503.31 L1038.52 507.53 L1045.82 511.52 L1053.12 515.30 L1060.41 518.90 L1067.71 522.34 L1075.01 525.64 L1082.31 528.82 L1089.61 531.89 L1096.91 534.87 L1104.20 537.75 L1111.50 540.56 L1118.80 543.29 L1126.10 545.97 L1133.40 548.58 L1140.70 551.14 L1147.99 553.65 L1155.29 556.11 L1162.59 558.52 L1169.89 560.89 L1177.19 563.23 L1184.49 565.52 L1191.78 567.79 L1199.08 570.02 L1206.38 572.23 L1213.68 574.41 L1220.98 576.57 L1228.28 578.71 L1235.57 580.82 L1242.87 582.92 L1250.17 585.00 L1257.47 587.06 L1264.77 589.11 L1272.06 591.15 L1279.36 593.17 L1286.66 595.19 L1293.96 597.19 L1301.26 599.18 L1308.56 601.17 L1315.85 603.14 L1323.15 605.11 L1330.45 607.07 L1337.75 609.02 L1345.05 610.96 L1352.35 612.90 L1359.64 614.83 L1366.94 616.75 L1374.24 618.67 L1381.54 620.59 L1388.84 622.50 L1396.14 624.40 L1403.43 626.30 L1410.73 628.20 L1418.03 630.09 L1425.33 631.98 L1432.63 633.87 L1439.92 635.75 L1447.22 637.63 L1454.52 639.50 L1461.82 641.38 L1469.12 643.25 L1476.42 645.12 L1483.71 646.98 L1491.01 648.85 L1498.31 650.71 L1505.61 652.57 L1512.91 654.42 L1520.21 656.28 L1527.50 658.14 L1534.80 659.99 L1542.10 661.85 L1549.40 663.70 L1556.70 665.56 L1564.00 667.42 L1571.29 669.27 L1578.59 671.13 L1585.89 672.99 L1593.19 674.85 L1600.49 676.71 L1607.79 678.58 L1615.08 680.44 L1622.38 682.31 L1629.68 684.18 L1636.98 686.06 L1644.28 687.93 L1651.57 689.81 L1658.87 691.70 L1666.17 693.58 L1673.47 695.48 L1680.77 697.39 L1688.07 699.31 L1695.36 701.23 L1702.66 703.16 L1709.96 705.10 L1717.26 707.04 L1724.56 708.99 L1731.86 710.93 L1739.15 712.88 L1746.45 714.83 L1753.75 716.79 L1761.05 718.74 L1768.35 720.68 L1775.65 722.63 L1782.94 724.57 L1790.24 726.51 L1797.54 728.44 L1804.84 730.37 L1812.14 732.30 L1819.43 734.23 L1826.73 736.17 L1834.03 738.10 L1841.33 740.04 L1848.63 741.99 L1855.93 743.93 L1863.22 745.88 L1870.52 747.83 L1877.82 749.79 L1885.12 751.75 L1892.42 753.72 L1899.72 755.69 L1907.01 757.67 L1914.31 759.65 L1921.61 761.64 L1928.91 763.64 L1936.21 765.64 L1943.51 767.64 L1950.80 769.66 L1958.10 771.67 L1965.40 773.69 L1972.70 775.72 L1980.00 777.75 L1987.30 779.79 L1994.59 781.83 L2001.89 783.87 L2009.19 785.92 L2016.49 787.98 L2023.79 790.04 L2031.08 792.10 L2038.38 794.17 L2045.68 796.25 L2052.98 798.33 L2060.28 800.40 L2067.58 802.46 L2074.87 804.53 L2082.17 806.58 L2089.47 808.63 L2096.77 810.68 L2104.07 812.72 L2111.37 814.77 L2118.66 816.81 L2125.96 818.84 L2133.26 820.88 L2140.56 822.92 L2147.86 824.96 L2155.16 827.01 L2162.45 829.05 L2169.75 831.10 L2177.05 833.15" fill="none" stroke="#ba58a0" stroke-width="6.80" stroke-linejoin="round"/>
<path d="M936.34 837.50 L943.64 840.08 L950.94 842.67 L958.24 845.27 L965.54 847.87 L972.84 850.48 L980.13 853.09 L987.43 855.71 L994.73 858.33 L1002.03 860.96 L1009.33 863.59 L1016.63 866.23 L1023.92 868.87 L1031.22 871.52 L1038.52 874.17 L1045.82 876.83 L1053.12 879.49 L1060.41 882.15 L1067.71 884.82 L1075.01 887.49 L1082.31 890.17 L1089.61 892.85 L1096.91 895.54 L1104.20 898.22 L1111.50 900.91 L1118.80 903.61 L1126.10 906.31 L1133.40 909.01 L1140.70 911.71 L1147.99 914.42 L1155.29 917.13 L1162.59 919.84 L1169.89 922.55 L1177.19 925.27 L1184.49 927.99 L1191.78 930.72 L1199.08 933.44 L1206.38 936.17 L1213.68 938.90 L1220.98 941.64 L1228.28 944.37 L1235.57 947.11 L1242.87 949.85 L1250.17 952.59 L1257.47 955.33 L1264.77 958.08 L1272.06 960.83 L1279.36 963.60 L1286.66 966.36 L1293.96 969.14 L1301.26 971.91 L1308.56 974.70 L1315.85 977.48 L1323.15 980.27 L1330.45 983.06 L1337.75 985.85 L1345.05 988.65 L1352.35 991.44 L1359.64 994.23 L1366.94 997.02 L1374.24 999.81 L1381.54 1002.60 L1388.84 1005.38 L1396.14 1008.16 L1403.43 1010.94 L1410.73 1013.71 L1418.03 1016.49 L1425.33 1019.26 L1432.63 1022.04 L1439.92 1024.81 L1447.22 1027.59 L1454.52 1030.36 L1461.82 1033.14 L1469.12 1035.91 L1476.42 1038.69 L1483.71 1041.47 L1491.01 1044.24 L1498.31 1047.02 L1505.61 1049.80 L1512.91 1052.58 L1520.21 1055.36 L1527.50 1058.13 L1534.80 1060.91 L1542.10 1063.69 L1549.40 1066.47 L1556.70 1069.25 L1564.00 1072.03 L1571.29 1074.82 L1578.59 1077.60 L1585.89 1080.38 L1593.19 1083.16 L1600.49 1085.95 L1607.79 1088.73 L1615.08 1091.52 L1622.38 1094.31 L1629.68 1097.09 L1636.98 1099.88 L1644.28 1102.67 L1651.57 1105.46 L1658.87 1108.25 L1666.17 1111.03 L1673.47 1113.82 L1680.77 1116.61 L1688.07 1119.39 L1695.36 1122.18 L1702.66 1124.97 L1709.96 1127.75 L1717.26 1130.54 L1724.56 1133.33 L1731.86 1136.12 L1739.15 1138.91 L1746.45 1141.71 L1753.75 1144.50 L1761.05 1147.30 L1768.35 1150.10 L1775.65 1152.90 L1782.94 1155.70 L1790.24 1158.51 L1797.54 1161.31 L1804.84 1164.12 L1812.14 1166.94 L1819.43 1169.75 L1826.73 1172.57 L1834.03 1175.39 L1841.33 1178.21 L1848.63 1181.03 L1855.93 1183.85 L1863.22 1186.68 L1870.52 1189.50 L1877.82 1192.33 L1885.12 1195.16 L1892.42 1197.98 L1899.72 1200.81 L1907.01 1203.64 L1914.31 1206.47 L1921.61 1209.29 L1928.91 1212.12 L1936.21 1214.95 L1943.51 1217.78 L1950.80 1220.60 L1958.10 1223.43 L1965.40 1226.25 L1972.70 1229.07 L1980.00 1231.89 L1987.30 1234.71 L1994.59 1237.53 L2001.89 1240.35 L2009.19 1243.16 L2016.49 1245.97 L2023.79 1248.78 L2031.08 1251.59 L2038.38 1254.39 L2045.68 1257.19 L2052.98 1259.99 L2060.28 1262.78 L2067.58 1265.57 L2074.87 1268.35 L2082.17 1271.13 L2089.47 1273.90 L2096.77 1276.67 L2104.07 1279.43 L2111.37 1282.19 L2118.66 1284.95 L2125.96 1287.71 L2133.26 1290.46 L2140.56 1293.21 L2147.86 1295.95 L2155.16 1298.70 L2162.45 1301.44 L2169.75 1304.19 L2177.05 1306.93" fill="none" stroke="#465caa" stroke-width="6.80" stroke-linejoin="round"/>
<path d="M381.68 496.60 L388.97 554.70 L396.27 579.80 L403.57 599.31 L410.87 612.18 L418.17 622.76 L425.47 631.91 L432.76 639.72 L440.06 647.18 L447.36 654.16 L454.66 660.29 L461.96 665.86 L469.25 671.22 L476.55 676.38 L483.85 681.32 L491.15 686.07 L498.45 690.65 L505.75 695.09 L513.04 699.56 L520.34 703.99 L527.64 708.35 L534.94 712.64 L542.24 716.85 L549.54 720.97 L556.83 724.99 L564.13 728.89 L571.43 732.73 L578.73 736.49 L586.03 740.20 L593.33 743.85 L600.62 747.45 L607.92 751.01 L615.22 754.51 L622.52 757.98 L629.82 761.41 L637.12 764.80 L644.41 768.16 L651.71 771.49 L659.01 774.79 L666.31 778.02 L673.61 781.13 L680.90 784.19 L688.20 787.26 L695.50 790.40 L702.80 793.65 L710.10 796.93 L717.40 800.18 L724.69 803.42 L731.99 806.65 L739.29 809.86 L746.59 813.06 L753.89 816.25 L761.19 819.43 L768.48 822.59 L775.78 825.75 L783.08 828.89 L790.38 832.02 L797.68 835.15 L804.98 838.26 L812.27 841.37 L819.57 844.47 L826.87 847.56 L834.17 850.65 L841.47 853.72 L848.77 856.79 L856.06 859.85 L863.36 862.91 L870.66 865.96 L877.96 869.00 L885.26 872.04 L892.55 875.07 L899.85 878.10 L907.15 881.12 L914.45 884.14 L921.75 887.15 L929.05 890.16 L936.34 893.16 L943.64 896.16 L950.94 899.15 L958.24 902.14 L965.54 905.13 L972.84 908.11 L980.13 911.09 L987.43 914.07 L994.73 917.04 L1002.03 920.01 L1009.33 922.98 L1016.63 925.94 L1023.92 928.90 L1031.22 931.86 L1038.52 934.81 L1045.82 937.76 L1053.12 940.71 L1060.41 943.66 L1067.71 946.62 L1075.01 949.61 L1082.31 952.62 L1089.61 955.64 L1096.91 958.66 L1104.20 961.68 L1111.50 964.69 L1118.80 967.69 L1126.10 970.65 L1133.40 973.59 L1140.70 976.49 L1147.99 979.36 L1155.29 982.24 L1162.59 985.11 L1169.89 987.98 L1177.19 990.85 L1184.49 993.71 L1191.78 996.58 L1199.08 999.44 L1206.38 1002.30 L1213.68 1005.16 L1220.98 1008.02 L1228.28 1010.88 L1235.57 1013.73 L1242.87 1016.58 L1250.17 1019.43 L1257.47 1022.28 L1264.77 1025.13 L1272.06 1027.98 L1279.36 1030.83 L1286.66 1033.67 L1293.96 1036.51 L1301.26 1039.36 L1308.56 1042.20 L1315.85 1045.04 L1323.15 1047.88 L1330.45 1050.72 L1337.75 1053.55 L1345.05 1056.39 L1352.35 1059.22 L1359.64 1062.06 L1366.94 1064.89 L1374.24 1067.73 L1381.54 1070.56 L1388.84 1073.39 L1396.14 1076.22 L1403.43 1079.05 L1410.73 1081.88 L1418.03 1084.71 L1425.33 1087.54 L1432.63 1090.36 L1439.92 1093.19 L1447.22 1096.02 L1454.52 1098.84 L1461.82 1101.67 L1469.12 1104.50 L1476.42 1107.32 L1483.71 1110.14 L1491.01 1112.97 L1498.31 1115.79 L1505.61 1118.62 L1512.91 1121.44 L1520.21 1124.26 L1527.50 1127.09 L1534.80 1129.91 L1542.10 1132.73 L1549.40 1135.56 L1556.70 1138.38 L1564.00 1141.20 L1571.29 1144.03 L1578.59 1146.87 L1585.89 1149.71 L1593.19 1152.55 L1600.49 1155.39 L1607.79 1158.24 L1615.08 1161.08 L1622.38 1163.92 L1629.68 1166.75 L1636.98 1169.58 L1644.28 1172.40 L1651.57 1175.22 L1658.87 1178.04 L1666.17 1180.86 L1673.47 1183.68 L1680.77 1186.50 L1688.07 1189.33 L1695.36 1192.15 L1702.66 1194.97 L1709.96 1197.79 L1717.26 1200.61 L1724.56 1203.43 L1731.86 1206.25 L1739.15 1209.07 L1746.45 1211.89 L1753.75 1214.72 L1761.05 1217.54 L1768.35 1220.36 L1775.65 1223.18 L1782.94 1226.00 L1790.24 1228.82 L1797.54 1231.65 L1804.84 1234.47 L1812.14 1237.29 L1819.43 1240.11 L1826.73 1242.93 L1834.03 1245.76 L1841.33 1248.58 L1848.63 1251.40 L1855.93 1254.23 L1863.22 1257.05 L1870.52 1259.87 L1877.82 1262.70 L1885.12 1265.52 L1892.42 1268.35 L1899.72 1271.17 L1907.01 1273.99 L1914.31 1276.82 L1921.61 1279.64 L1928.91 1282.47 L1936.21 1285.30 L1943.51 1288.12 L1950.80 1290.95 L1958.10 1293.77 L1965.40 1296.60 L1972.70 1299.43 L1980.00 1302.26 L1987.30 1305.08 L1994.59 1307.91 L2001.89 1310.74 L2009.19 1313.57 L2016.49 1316.40 L2023.79 1319.22 L2031.08 1322.05 L2038.38 1324.88 L2045.68 1327.71 L2052.98 1330.54 L2060.28 1333.37 L2067.58 1336.21 L2074.87 1339.04 L2082.17 1341.87 L2089.47 1344.70 L2096.77 1347.53 L2104.07 1350.37 L2111.37 1353.20 L2118.66 1356.00 L2125.96 1358.77 L2133.26 1361.52 L2140.56 1364.24 L2147.86 1366.95 L2155.16 1369.65 L2162.45 1372.34 L2169.75 1375.04 L2177.05 1377.76" fill="none" stroke="#6cc050" stroke-width="6.80" stroke-linejoin="round"/>
<path d="M381.68 743.80 L388.97 747.72 L396.27 751.50 L403.57 755.36 L410.87 759.51 L418.17 763.76 L425.47 767.96 L432.76 772.09 L440.06 776.16 L447.36 780.18 L454.66 784.16 L461.96 788.09 L469.25 791.99 L476.55 795.85 L483.85 799.67 L491.15 803.47 L498.45 807.23 L505.75 810.97 L513.04 814.68 L520.34 818.36 L527.64 822.02 L534.94 825.66 L542.24 829.28 L549.54 832.87 L556.83 836.45 L564.13 840.00 L571.43 843.54 L578.73 847.06 L586.03 850.56 L593.33 854.05 L600.62 857.52 L607.92 860.97 L615.22 864.42 L622.52 867.85 L629.82 871.27 L637.12 874.67 L644.41 878.07 L651.71 881.46 L659.01 884.84 L666.31 888.20 L673.61 891.56 L680.90 894.91 L688.20 898.25 L695.50 901.58 L702.80 904.90 L710.10 908.21 L717.40 911.52 L724.69 914.81 L731.99 918.10 L739.29 921.38 L746.59 924.65 L753.89 927.91 L761.19 931.16 L768.48 934.41 L775.78 937.64 L783.08 940.87 L790.38 944.09 L797.68 947.30 L804.98 950.51 L812.27 953.70 L819.57 956.87 L826.87 960.01 L834.17 963.13 L841.47 966.23 L848.77 969.31 L856.06 972.40 L863.36 975.48 L870.66 978.57 L877.96 981.67 L885.26 984.79 L892.55 987.93 L899.85 991.07 L907.15 994.22 L914.45 997.36 L921.75 1000.51 L929.05 1003.66 L936.34 1006.80 L943.64 1009.95 L950.94 1013.09 L958.24 1016.23 L965.54 1019.37 L972.84 1022.51 L980.13 1025.64 L987.43 1028.77 L994.73 1031.89 L1002.03 1035.01 L1009.33 1038.13 L1016.63 1041.24 L1023.92 1044.35 L1031.22 1047.45 L1038.52 1050.54 L1045.82 1053.63 L1053.12 1056.71 L1060.41 1059.78 L1067.71 1062.85 L1075.01 1065.89 L1082.31 1068.93 L1089.61 1071.95 L1096.91 1074.97 L1104.20 1077.99 L1111.50 1081.00 L1118.80 1084.02 L1126.10 1087.04 L1133.40 1090.07 L1140.70 1093.10 L1147.99 1096.14 L1155.29 1099.18 L1162.59 1102.21 L1169.89 1105.24 L1177.19 1108.27 L1184.49 1111.30 L1191.78 1114.33 L1199.08 1117.35 L1206.38 1120.38 L1213.68 1123.40 L1220.98 1126.42 L1228.28 1129.44 L1235.57 1132.45 L1242.87 1135.47 L1250.17 1138.48 L1257.47 1141.49 L1264.77 1144.50 L1272.06 1147.51 L1279.36 1150.52 L1286.66 1153.52 L1293.96 1156.53 L1301.26 1159.53 L1308.56 1162.53 L1315.85 1165.53 L1323.15 1168.52 L1330.45 1171.52 L1337.75 1174.51 L1345.05 1177.50 L1352.35 1180.49 L1359.64 1183.48 L1366.94 1186.47 L1374.24 1189.46 L1381.54 1192.44 L1388.84 1195.43 L1396.14 1198.41 L1403.43 1201.39 L1410.73 1204.37 L1418.03 1207.34 L1425.33 1210.32 L1432.63 1213.29 L1439.92 1216.27 L1447.22 1219.24 L1454.52 1222.21 L1461.82 1225.18 L1469.12 1228.15 L1476.42 1231.11 L1483.71 1234.08 L1491.01 1237.04 L1498.31 1240.00 L1505.61 1242.96 L1512.91 1245.92 L1520.21 1248.88 L1527.50 1251.83 L1534.80 1254.79 L1542.10 1257.74 L1549.40 1260.69 L1556.70 1263.64 L1564.00 1266.59 L1571.29 1269.54 L1578.59 1272.48 L1585.89 1275.42 L1593.19 1278.36 L1600.49 1281.29 L1607.79 1284.23 L1615.08 1287.16 L1622.38 1290.10 L1629.68 1293.03 L1636.98 1295.97 L1644.28 1298.91 L1651.57 1301.85 L1658.87 1304.79 L1666.17 1307.73 L1673.47 1310.66 L1680.77 1313.60 L1688.07 1316.54 L1695.36 1319.47 L1702.66 1322.40 L1709.96 1325.33 L1717.26 1328.26 L1724.56 1331.19 L1731.86 1334.12 L1739.15 1337.05 L1746.45 1339.98 L1753.75 1342.91 L1761.05 1345.83 L1768.35 1348.76 L1775.65 1351.68 L1782.94 1354.60 L1790.24 1357.53 L1797.54 1360.45 L1804.84 1363.37 L1812.14 1366.29 L1819.43 1369.21 L1826.73 1372.13 L1834.03 1375.04 L1841.33 1377.96 L1848.63 1380.88 L1855.93 1383.79 L1863.22 1386.71 L1870.52 1389.62 L1877.82 1392.53 L1885.12 1395.44 L1892.42 1398.35 L1899.72 1401.26 L1907.01 1404.17 L1914.31 1407.08 L1921.61 1409.99 L1928.91 1412.90 L1936.21 1415.80 L1943.51 1418.71 L1950.80 1421.62 L1958.10 1424.52 L1965.40 1427.42 L1972.70 1430.33 L1980.00 1433.23 L1987.30 1436.13 L1994.59 1439.03 L2001.89 1441.93 L2009.19 1444.83 L2016.49 1447.73 L2023.79 1450.63 L2031.08 1453.53 L2038.38 1456.42 L2045.68 1459.32 L2052.98 1462.21 L2060.28 1465.11 L2067.58 1468.00 L2074.87 1470.90 L2082.17 1473.79 L2089.47 1476.68 L2096.77 1479.57 L2104.07 1482.46 L2111.37 1485.35 L2118.66 1488.24 L2125.96 1491.14 L2133.26 1494.03 L2140.56 1496.93 L2147.86 1499.83 L2155.16 1502.73 L2162.45 1505.62 L2169.75 1508.52 L2177.05 1511.42" fill="none" stroke="#ee3237" stroke-width="6.80" stroke-linejoin="round"/>
</g>
<rect x="1053.50" y="111.00" width="1076.30" height="295.40" fill="#ffffff" stroke="#333333" stroke-width="3.32"/>
<rect x="1073.85" y="139.00" width="99.30" height="32.90" fill="#f1e0f0" stroke="#ebc0dc" stroke-width="3.50"/>
<text transform="translate(1188.48 173.20) scale(1.0470 1.0000)" font-size="61.00">Error</text>
<text transform="translate(1339.29 173.20) scale(1.1072 1.0000)" font-size="61.00">upper</text>
<text transform="translate(1508.20 173.20) scale(1.1008 1.0000)" font-size="61.00">bound</text>
<text transform="translate(1688.63 173.20) scale(1.0255 1.0000)" font-size="61.00">SD</text>
<text transform="translate(1780.89 173.20) scale(1.0448 1.0000)" font-size="61.00">for</text>
<text transform="translate(1869.79 173.20) scale(0.9348 1.0000)" font-size="61.00" font-style="italic">d</text>
<text transform="translate(1916.95 177.50) scale(1.4278 0.9800)" font-size="61.00">=</text>
<text transform="translate(1979.88 173.20) scale(0.9908 1.0000)" font-size="61.00">20</text>
<path d="M1075.00 231.50 H1175.90" stroke="#ba58a0" stroke-width="6.8" fill="none"/>
<text transform="translate(1191.88 248.70) scale(1.0470 1.0000)" font-size="61.00">Error</text>
<text transform="translate(1342.69 248.70) scale(1.1072 1.0000)" font-size="61.00">upper</text>
<text transform="translate(1511.60 248.70) scale(1.1008 1.0000)" font-size="61.00">bound</text>
<text transform="translate(1694.99 248.70) scale(1.0706 1.0000)" font-size="61.00">mean</text>
<text transform="translate(1851.09 248.70) scale(1.0448 1.0000)" font-size="61.00">for</text>
<text transform="translate(1939.99 248.70) scale(0.9348 1.0000)" font-size="61.00" font-style="italic">d</text>
<text transform="translate(1987.15 253.00) scale(1.4278 0.9800)" font-size="61.00">=</text>
<text transform="translate(2050.08 248.70) scale(0.9908 1.0000)" font-size="61.00">20</text>
<rect x="1073.85" y="291.45" width="99.30" height="32.90" fill="#dadcee" stroke="#c0bee0" stroke-width="3.50"/>
<text transform="translate(1188.48 325.20) scale(1.0470 1.0000)" font-size="61.00">Error</text>
<text transform="translate(1335.83 325.20) scale(1.0255 1.0000)" font-size="61.00">SD</text>
<text transform="translate(1428.09 325.20) scale(1.0448 1.0000)" font-size="61.00">for</text>
<text transform="translate(1516.99 325.20) scale(0.9348 1.0000)" font-size="61.00" font-style="italic">d</text>
<text transform="translate(1564.15 329.50) scale(1.4278 0.9800)" font-size="61.00">=</text>
<text transform="translate(1627.08 325.20) scale(0.9908 1.0000)" font-size="61.00">20</text>
<path d="M1075.00 368.40 H1175.90" stroke="#465caa" stroke-width="6.8" fill="none"/>
<text transform="translate(1191.88 386.50) scale(1.0470 1.0000)" font-size="61.00">Error</text>
<text transform="translate(1342.19 386.50) scale(1.0706 1.0000)" font-size="61.00">mean</text>
<text transform="translate(1498.29 386.50) scale(1.0448 1.0000)" font-size="61.00">for</text>
<text transform="translate(1587.19 386.50) scale(0.9348 1.0000)" font-size="61.00" font-style="italic">d</text>
<text transform="translate(1634.35 390.80) scale(1.4278 0.9800)" font-size="61.00">=</text>
<text transform="translate(1697.28 386.50) scale(0.9908 1.0000)" font-size="61.00">20</text>
<rect x="318.60" y="1227.80" width="1046.80" height="295.50" fill="#ffffff" stroke="#333333" stroke-width="3.32"/>
<rect x="338.95" y="1255.60" width="99.30" height="32.90" fill="#e6f2e0" stroke="#c7e6ba" stroke-width="3.50"/>
<text transform="translate(453.58 1289.20) scale(1.0470 1.0000)" font-size="61.00">Error</text>
<text transform="translate(604.39 1289.20) scale(1.1072 1.0000)" font-size="61.00">upper</text>
<text transform="translate(773.30 1289.20) scale(1.1008 1.0000)" font-size="61.00">bound</text>
<text transform="translate(953.73 1289.20) scale(1.0255 1.0000)" font-size="61.00">SD</text>
<text transform="translate(1045.99 1289.20) scale(1.0448 1.0000)" font-size="61.00">for</text>
<text transform="translate(1134.89 1289.20) scale(0.9348 1.0000)" font-size="61.00" font-style="italic">d</text>
<text transform="translate(1182.05 1293.50) scale(1.4278 0.9800)" font-size="61.00">=</text>
<text transform="translate(1245.27 1289.20) scale(1.0276 1.0000)" font-size="61.00">3</text>
<path d="M340.10 1348.10 H441.00" stroke="#6cc050" stroke-width="6.8" fill="none"/>
<text transform="translate(456.98 1364.90) scale(1.0470 1.0000)" font-size="61.00">Error</text>
<text transform="translate(607.79 1364.90) scale(1.1072 1.0000)" font-size="61.00">upper</text>
<text transform="translate(776.70 1364.90) scale(1.1008 1.0000)" font-size="61.00">bound</text>
<text transform="translate(960.09 1364.90) scale(1.0706 1.0000)" font-size="61.00">mean</text>
<text transform="translate(1116.19 1364.90) scale(1.0448 1.0000)" font-size="61.00">for</text>
<text transform="translate(1205.09 1364.90) scale(0.9348 1.0000)" font-size="61.00" font-style="italic">d</text>
<text transform="translate(1252.25 1369.20) scale(1.4278 0.9800)" font-size="61.00">=</text>
<text transform="translate(1315.47 1364.90) scale(1.0276 1.0000)" font-size="61.00">3</text>
<rect x="338.95" y="1407.50" width="99.30" height="32.90" fill="#fde0d6" stroke="#fac0c4" stroke-width="3.50"/>
<text transform="translate(453.58 1441.90) scale(1.0470 1.0000)" font-size="61.00">Error</text>
<text transform="translate(600.93 1441.90) scale(1.0255 1.0000)" font-size="61.00">SD</text>
<text transform="translate(693.19 1441.90) scale(1.0448 1.0000)" font-size="61.00">for</text>
<text transform="translate(782.09 1441.90) scale(0.9348 1.0000)" font-size="61.00" font-style="italic">d</text>
<text transform="translate(829.25 1446.20) scale(1.4278 0.9800)" font-size="61.00">=</text>
<text transform="translate(892.47 1441.90) scale(1.0276 1.0000)" font-size="61.00">3</text>
<path d="M340.10 1485.50 H441.00" stroke="#ee3237" stroke-width="6.8" fill="none"/>
<text transform="translate(456.98 1503.00) scale(1.0470 1.0000)" font-size="61.00">Error</text>
<text transform="translate(607.29 1503.00) scale(1.0706 1.0000)" font-size="61.00">mean</text>
<text transform="translate(763.39 1503.00) scale(1.0448 1.0000)" font-size="61.00">for</text>
<text transform="translate(852.29 1503.00) scale(0.9348 1.0000)" font-size="61.00" font-style="italic">d</text>
<text transform="translate(899.45 1507.30) scale(1.4278 0.9800)" font-size="61.00">=</text>
<text transform="translate(962.67 1503.00) scale(1.0276 1.0000)" font-size="61.00">3</text>
<text transform="translate(152.28 91.35) scale(0.9972 1.0000)" font-size="60.40">10</text>
<text transform="translate(209.65 70.15) scale(1.0073 1.0000)" font-size="46.90">10</text>
<text transform="translate(174.38 390.63) scale(0.9972 1.0000)" font-size="60.40">10</text>
<text transform="translate(231.24 369.43) scale(1.0501 1.0000)" font-size="46.90">5</text>
<text transform="translate(174.38 689.91) scale(0.9972 1.0000)" font-size="60.40">10</text>
<text transform="translate(232.97 668.71) scale(1.0306 1.0000)" font-size="46.90">0</text>
<text transform="translate(137.48 989.19) scale(0.9972 1.0000)" font-size="60.40">10</text>
<text transform="translate(198.87 970.79) scale(1.2931 1.0000)" font-size="46.90">−</text>
<text transform="translate(231.24 967.99) scale(1.0501 1.0000)" font-size="46.90">5</text>
<text transform="translate(115.38 1288.47) scale(0.9972 1.0000)" font-size="60.40">10</text>
<text transform="translate(176.10 1270.07) scale(1.2793 1.0000)" font-size="46.90">−</text>
<text transform="translate(209.65 1267.27) scale(1.0073 1.0000)" font-size="46.90">10</text>
<text transform="translate(115.38 1587.75) scale(0.9972 1.0000)" font-size="60.40">10</text>
<text transform="translate(176.10 1569.35) scale(1.2793 1.0000)" font-size="46.90">−</text>
<text transform="translate(209.76 1566.55) scale(0.9803 1.0000)" font-size="46.90">15</text>
<text transform="translate(264.59 1623.20) scale(0.9973 1.0000)" font-size="60.40">0</text>
<text transform="translate(611.96 1623.20) scale(1.0320 1.0000)" font-size="60.40">50</text>
<text transform="translate(964.43 1623.20) scale(0.9885 1.0000)" font-size="60.40">100</text>
<text transform="translate(1328.79 1623.20) scale(0.9946 1.0000)" font-size="60.40">150</text>
<text transform="translate(1693.32 1623.20) scale(0.9852 1.0000)" font-size="60.40">200</text>
<text transform="translate(2058.32 1623.20) scale(0.9852 1.0000)" font-size="60.40">250</text>
<text transform="translate(1214.66 1704.70) scale(0.9111 1.0000)" font-size="61.00" font-style="italic">L</text>
<text transform="translate(75.90 882.82) rotate(-90) scale(1.0509 1)" font-size="61.00">Error</text>
</svg></body></html>
